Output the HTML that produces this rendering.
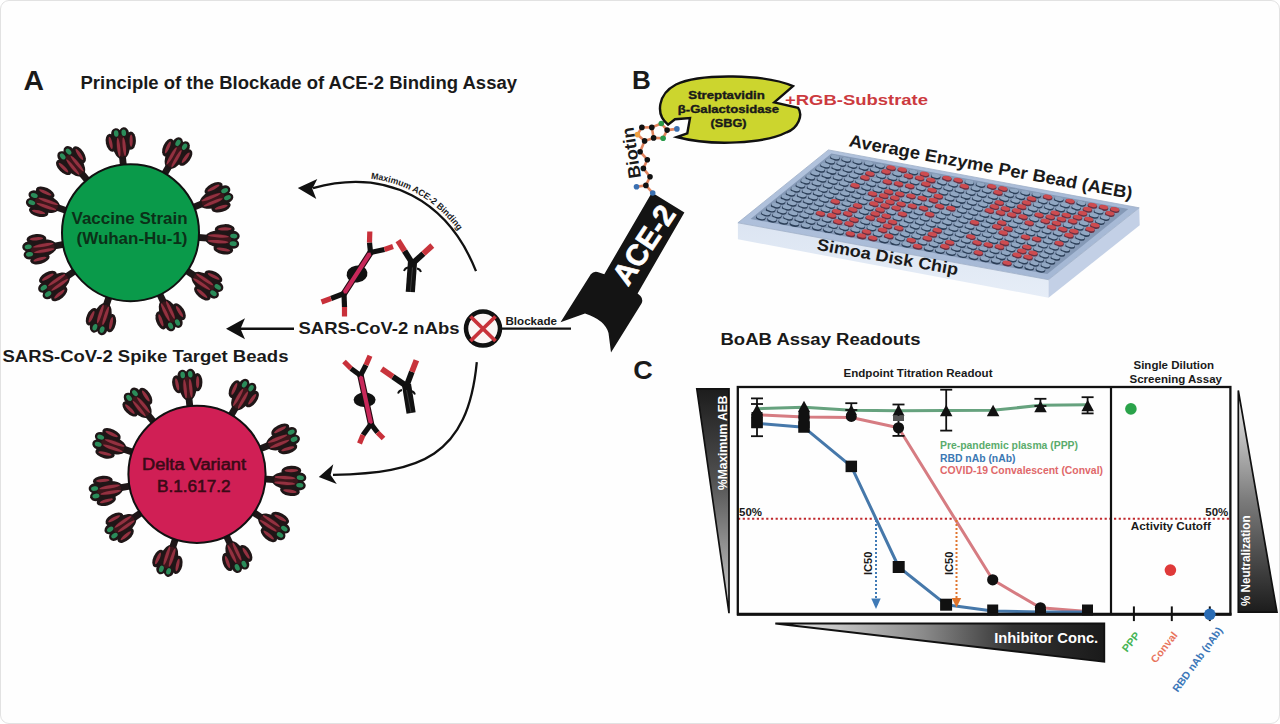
<!DOCTYPE html>
<html><head><meta charset="utf-8"><title>BoAB assay figure</title>
<style>
html,body{margin:0;padding:0;background:#fff;}
body{width:1280px;height:724px;overflow:hidden;}
.frame{position:absolute;left:0;top:0;width:1278px;height:722px;border:1px solid #e2e2e2;border-radius:9px;background:#fefefe;overflow:hidden;}
svg{position:absolute;left:0;top:0;}
text{font-family:"Liberation Sans", sans-serif;}
</style></head>
<body>
<div class="frame"></div>
<svg width="1280" height="724" viewBox="0 0 1280 724" font-family='"Liberation Sans", sans-serif'>
<defs>
<linearGradient id="gL" x1="0" y1="0" x2="0" y2="1">
  <stop offset="0" stop-color="#1c1c1c"/><stop offset="0.4" stop-color="#505050"/><stop offset="0.8" stop-color="#a8a8a8"/><stop offset="1" stop-color="#e0e0e0"/>
</linearGradient>
<linearGradient id="gR" x1="0" y1="0" x2="0" y2="1">
  <stop offset="0" stop-color="#f0f0f0"/><stop offset="0.5" stop-color="#7a7a7a"/><stop offset="1" stop-color="#1c1c1c"/>
</linearGradient>
<linearGradient id="gB" x1="0" y1="0" x2="1" y2="0">
  <stop offset="0" stop-color="#eeeeee"/><stop offset="0.45" stop-color="#8a8a8a"/><stop offset="0.72" stop-color="#333"/><stop offset="1" stop-color="#1a1a1a"/>
</linearGradient>
<linearGradient id="gTop" x1="0" y1="0" x2="1" y2="1">
  <stop offset="0" stop-color="#b3c4de"/><stop offset="1" stop-color="#a3b6d3"/>
</linearGradient>
<linearGradient id="gFront" x1="0" y1="0" x2="0" y2="1">
  <stop offset="0" stop-color="#dce5f2"/><stop offset="1" stop-color="#e6edf7"/>
</linearGradient>
<g id="spike">
  <rect x="-4" y="-3.4" width="14" height="6.8" fill="#1e1718"/>
  <g fill="#1f1617">
    <ellipse cx="23" cy="0" rx="15" ry="8.8"/>
    <ellipse cx="26" cy="-10" rx="9.5" ry="5.1" transform="rotate(-6 26 -10)"/>
    <ellipse cx="26" cy="10" rx="9.5" ry="5.1" transform="rotate(6 26 10)"/>
    <ellipse cx="34.5" cy="-4" rx="6.2" ry="5"/>
    <ellipse cx="34.5" cy="4" rx="6.2" ry="5"/>
  </g>
  <ellipse cx="21.5" cy="0" rx="11.5" ry="5.2" fill="#3c161b"/>
  <g fill="#933140">
    <ellipse cx="20.5" cy="-2.8" rx="10" ry="1.55"/>
    <ellipse cx="20.5" cy="2.8" rx="10" ry="1.55"/>
    <ellipse cx="26" cy="-10.3" rx="6.5" ry="1.6" transform="rotate(-6 26 -10.3)"/>
    <ellipse cx="26" cy="10.3" rx="6.5" ry="1.6" transform="rotate(6 26 10.3)"/>
  </g>
  <g fill="#2b8c5a">
    <ellipse cx="35" cy="-3.8" rx="3.4" ry="2.3"/>
    <ellipse cx="35" cy="3.8" rx="3.4" ry="2.3"/>
  </g>
</g>
</defs>
<text x="23.5" y="89.5" font-size="28" fill="#1a1a1a" font-weight="bold" textLength="20.5" lengthAdjust="spacingAndGlyphs" >A</text>
<text x="80.5" y="89" font-size="18" fill="#1a1a1a" font-weight="bold" textLength="436.5" lengthAdjust="spacingAndGlyphs" >Principle of the Blockade of ACE-2 Binding Assay</text>
<use href="#spike" transform="translate(196.8,237.3) rotate(4) scale(1.050,1)"/>
<use href="#spike" transform="translate(185.6,269.9) rotate(34) scale(1.033,1)"/>
<use href="#spike" transform="translate(159.1,292.7) rotate(64.5) scale(0.993,1)"/>
<use href="#spike" transform="translate(109.4,295.8) rotate(108.5) scale(0.982,1)"/>
<use href="#spike" transform="translate(75.7,270.4) rotate(145.5) scale(1.032,1)"/>
<use href="#spike" transform="translate(65.0,244.2) rotate(170) scale(1.048,1)"/>
<use href="#spike" transform="translate(67.6,211.0) rotate(199) scale(1.045,1)"/>
<use href="#spike" transform="translate(88.2,181.4) rotate(230.5) scale(1.014,1)"/>
<use href="#spike" transform="translate(123.5,166.6) rotate(264) scale(0.960,1)"/>
<use href="#spike" transform="translate(163.8,175.1) rotate(300) scale(1.000,1)"/>
<use href="#spike" transform="translate(192.2,207.8) rotate(338) scale(1.043,1)"/>
<circle cx="130.5" cy="232.7" r="68.5" fill="#0a9a4a" stroke="#111" stroke-width="2"/>
<text x="71.5" y="223.5" font-size="16" fill="#0b3118" font-weight="bold" textLength="116" lengthAdjust="spacingAndGlyphs" >Vaccine Strain</text>
<text x="76.5" y="244" font-size="16" fill="#0b3118" font-weight="bold" textLength="111" lengthAdjust="spacingAndGlyphs" >(Wuhan-Hu-1)</text>
<use href="#spike" transform="translate(263.4,478.9) rotate(4) scale(1.050,1)"/>
<use href="#spike" transform="translate(252.2,511.5) rotate(34) scale(1.033,1)"/>
<use href="#spike" transform="translate(225.7,534.4) rotate(64.5) scale(0.993,1)"/>
<use href="#spike" transform="translate(175.9,537.5) rotate(108.5) scale(0.982,1)"/>
<use href="#spike" transform="translate(142.1,512.0) rotate(145.5) scale(1.032,1)"/>
<use href="#spike" transform="translate(131.4,485.9) rotate(170) scale(1.048,1)"/>
<use href="#spike" transform="translate(134.0,452.6) rotate(199) scale(1.045,1)"/>
<use href="#spike" transform="translate(154.6,422.9) rotate(230.5) scale(1.014,1)"/>
<use href="#spike" transform="translate(190.0,408.1) rotate(264) scale(0.960,1)"/>
<use href="#spike" transform="translate(230.3,416.6) rotate(300) scale(1.000,1)"/>
<use href="#spike" transform="translate(258.8,449.4) rotate(338) scale(1.043,1)"/>
<circle cx="197" cy="474.3" r="68.6" fill="#d01f55" stroke="#111" stroke-width="2"/>
<text x="142" y="470.3" font-size="16" fill="#3a0a16" font-weight="normal" textLength="104" lengthAdjust="spacingAndGlyphs" stroke="#3a0a16" stroke-width="0.55">Delta Variant</text>
<text x="157" y="491.6" font-size="16" fill="#3a0a16" font-weight="normal" textLength="73.5" lengthAdjust="spacingAndGlyphs" stroke="#3a0a16" stroke-width="0.55">B.1.617.2</text>
<text x="2.5" y="362" font-size="17.2" fill="#1a1a1a" font-weight="bold" textLength="286" lengthAdjust="spacingAndGlyphs" >SARS-CoV-2 Spike Target Beads</text>
<line x1="240" y1="328.8" x2="294" y2="328.8" stroke="#111" stroke-width="2.4"/>
<path d="M226.0,328.8 L245.0,318.3 L240.5,328.8 L245.0,339.3 Z" fill="#111"/>
<path d="M476,271.2 C448.3,201.3 387.9,167.2 313,188.1" fill="none" stroke="#111" stroke-width="2.3"/>
<path d="M297.8,187.9 L317.3,178.9 L312.3,188.7 L316.3,198.9 Z" fill="#111"/>
<path id="upt" d="M311.94,184.24 L313.07,183.93 L314.22,183.62 L315.36,183.32 L316.50,183.03 L317.64,182.75 L318.78,182.48 L319.91,182.21 L321.04,181.95 L322.17,181.70 L323.30,181.46 L324.43,181.23 L325.55,181.00 L326.67,180.79 L327.79,180.58 L328.91,180.38 L330.02,180.19 L331.14,180.00 L332.25,179.83 L333.35,179.66 L334.46,179.50 L335.56,179.35 L336.67,179.21 L337.76,179.07 L338.86,178.94 L339.95,178.82 L341.05,178.71 L342.14,178.61 L343.22,178.52 L344.31,178.43 L345.39,178.35 L346.47,178.28 L347.55,178.22 L348.62,178.16 L349.69,178.12 L350.76,178.08 L351.83,178.05 L352.90,178.03 L353.96,178.01 L355.02,178.01 L356.07,178.01 L357.13,178.02 L358.18,178.03 L359.23,178.06 L360.27,178.09 L361.32,178.13 L362.36,178.18 L363.40,178.24 L364.43,178.30 L365.47,178.37 L366.50,178.45 L367.52,178.54 L368.55,178.63 L369.57,178.74 L370.59,178.85 L371.60,178.97 L372.62,179.09 L373.63,179.22 L374.63,179.37 L375.64,179.52 L376.64,179.67 L377.64,179.84 L378.63,180.01 L379.62,180.19 L380.61,180.38 L381.60,180.57 L382.58,180.77 L383.56,180.98 L384.54,181.20 L385.51,181.43 L386.48,181.66 L387.45,181.90 L388.42,182.15 L389.38,182.40 L390.33,182.66 L391.29,182.93 L392.24,183.21 L393.19,183.50 L394.13,183.79 L395.08,184.09 L396.01,184.39 L396.95,184.71 L397.88,185.03 L398.81,185.36 L399.73,185.70 L400.66,186.04 L401.57,186.39 L402.49,186.75 L403.40,187.11 L404.31,187.49 L405.21,187.87 L406.11,188.25 L407.01,188.65 L407.90,189.05 L408.79,189.46 L409.68,189.87 L410.56,190.30 L411.44,190.73 L412.32,191.16 L413.19,191.61 L414.06,192.06 L414.92,192.52 L415.78,192.98 L416.64,193.45 L417.49,193.93 L418.34,194.42 L419.19,194.91 L420.03,195.41 L420.87,195.92 L421.71,196.43 L422.54,196.95 L423.36,197.48 L424.19,198.01 L425.00,198.56 L425.82,199.10 L426.63,199.66 L427.44,200.22 L428.24,200.79 L429.04,201.36 L429.84,201.94 L430.63,202.53 L431.42,203.13 L432.20,203.73 L432.98,204.34 L433.75,204.95 L434.52,205.57 L435.29,206.20 L436.05,206.84 L436.81,207.48 L437.57,208.13 L438.32,208.78 L439.06,209.44 L439.81,210.11 L440.54,210.78 L441.28,211.46 L442.01,212.15 L442.73,212.84 L443.45,213.54 L444.17,214.25 L444.88,214.96 L445.59,215.68 L446.30,216.40 L446.99,217.13 L447.69,217.87 L448.38,218.61 L449.07,219.36 L449.75,220.12 L450.43,220.88 L451.10,221.65 L451.77,222.43 L452.43,223.21 L453.09,223.99 L453.75,224.79 L454.40,225.59 L455.05,226.39 L455.69,227.20 L456.33,228.02 L456.96,228.84 L457.59,229.67 L458.21,230.51 L458.83,231.35 L459.45,232.20 L460.06,233.05 L460.66,233.91 L461.26,234.78 L461.86,235.65 L462.45,236.52 L463.04,237.41 L463.62,238.29 L464.20,239.19 L464.77,240.09 L465.34,241.00 L465.90,241.91 L466.46,242.83 L467.02,243.75 L467.57,244.68 L468.11,245.61 L468.65,246.55 L469.18,247.50 L469.71,248.45 L470.24,249.41 L470.76,250.37 L471.28,251.34 L471.79,252.32 L472.29,253.30 L472.79,254.28 L473.29,255.27 L473.78,256.27 L474.27,257.27 L474.75,258.28 L475.23,259.29 L475.70,260.31 L476.17,261.34 L476.63,262.37 L477.08,263.40 L477.54,264.44 L477.98,265.49 L478.42,266.54 L478.86,267.60 L479.29,268.66 L479.71,269.72" fill="none"/>
<text font-size="9" font-weight="bold" fill="#1a1a1a"><textPath href="#upt" startOffset="59.3" textLength="105" lengthAdjust="spacingAndGlyphs">Maximum ACE-2 Binding</textPath></text>
<path d="M476.8,362.1 C467.7,457.3 420.3,473 333,474.8" fill="none" stroke="#111" stroke-width="2.3"/>
<path d="M318.8,477.0 L333.3,464.3 L330.6,474.9 L336.8,484.0 Z" fill="#111"/>
<text x="298.5" y="333.8" font-size="17.3" fill="#1a1a1a" font-weight="bold" textLength="161" lengthAdjust="spacingAndGlyphs" >SARS-CoV-2 nAbs</text>
<circle cx="483" cy="328.6" r="17" fill="#fbf5f5" stroke="#111" stroke-width="4.5"/>
<path d="M470.5,316.5 L495.5,341 M495.5,316.5 L470.5,341" stroke="#c8323a" stroke-width="3.8"/>
<line x1="502" y1="328.6" x2="571" y2="328.6" stroke="#111" stroke-width="2.3"/>
<text x="505.5" y="324.8" font-size="10.5" fill="#1a1a1a" font-weight="bold" textLength="51.5" lengthAdjust="spacingAndGlyphs" >Blockade</text>
<path d="M370.5,252.5 L344,293.5" stroke="#2a0d14" stroke-width="6.5" stroke-linecap="round"/>
<ellipse cx="357" cy="274" rx="10.5" ry="8.5" transform="rotate(-10 357 274)" fill="#111"/>
<path d="M370.5,252.5 L344,293.5" stroke="#c8285a" stroke-width="4.2" stroke-linecap="round"/>
<path d="M370.5,252.5 L369.5,242.5" stroke="#111" stroke-width="5.2"/>
<path d="M369.5,242.5 L369.8,231.5" stroke="#c8303a" stroke-width="5.2"/>
<path d="M370.5,252.5 L384.5,249.5" stroke="#111" stroke-width="5.2"/>
<path d="M384.5,249.5 L393,246.5" stroke="#c8303a" stroke-width="5.2"/>
<path d="M344,293.5 L331,298.5" stroke="#111" stroke-width="5.2"/>
<path d="M331,298.5 L321.5,302" stroke="#c8303a" stroke-width="5.2"/>
<path d="M344,293.5 L344.5,307" stroke="#111" stroke-width="5.2"/>
<path d="M344.5,307 L344.5,316.5" stroke="#c8303a" stroke-width="5.2"/>
<path d="M412.5,263.5 L404.5,250.9" stroke="#111" stroke-width="5.8"/>
<path d="M404.5,250.9 L398,240.6" stroke="#c8343c" stroke-width="5.8"/>
<path d="M412.5,263.5 L423.4,253.6" stroke="#111" stroke-width="5.8"/>
<path d="M423.4,253.6 L432.3,245.5" stroke="#c8343c" stroke-width="5.8"/>
<path d="M412.5,262.0 L410.3,292" stroke="#111" stroke-width="9.2"/>
<path d="M412.5,267.5 L410.3,292" stroke="#666" stroke-width="0.5"/>
<path d="M408.0,267.5 q-3,0.5 -4,3.5 M417.0,268.5 q3,0.5 4,3.5" stroke="#111" stroke-width="1.8" fill="none"/>
<path d="M360.5,375.5 L371,424" stroke="#2a0d14" stroke-width="6.5" stroke-linecap="round"/>
<ellipse cx="364.6" cy="399.8" rx="11" ry="7.3" transform="rotate(0 364.6 399.8)" fill="#111"/>
<path d="M360.5,375.5 L371,424" stroke="#c8285a" stroke-width="4.2" stroke-linecap="round"/>
<path d="M360.5,375.5 L351,368.5" stroke="#111" stroke-width="5.2"/>
<path d="M351,368.5 L344,361.5" stroke="#c8303a" stroke-width="5.2"/>
<path d="M360.5,375.5 L366,365" stroke="#111" stroke-width="5.2"/>
<path d="M366,365 L370,355.8" stroke="#c8303a" stroke-width="5.2"/>
<path d="M371,424 L363,435" stroke="#111" stroke-width="5.2"/>
<path d="M363,435 L359.5,443.5" stroke="#c8303a" stroke-width="5.2"/>
<path d="M371,424 L377.5,432.5" stroke="#111" stroke-width="5.2"/>
<path d="M377.5,432.5 L383.5,438.5" stroke="#c8303a" stroke-width="5.2"/>
<path d="M406.5,386 L392.8,376.6" stroke="#111" stroke-width="5.8"/>
<path d="M392.8,376.6 L381.6,368.9" stroke="#c8343c" stroke-width="5.8"/>
<path d="M406.5,386 L411.9,371.8" stroke="#111" stroke-width="5.8"/>
<path d="M411.9,371.8 L416.4,360.2" stroke="#c8343c" stroke-width="5.8"/>
<path d="M406.5,384.5 L411.1,413" stroke="#111" stroke-width="9.2"/>
<path d="M406.5,390 L411.1,413" stroke="#666" stroke-width="0.5"/>
<path d="M402.0,390 q-3,0.5 -4,3.5 M411.0,391 q3,0.5 4,3.5" stroke="#111" stroke-width="1.8" fill="none"/>
<text x="632" y="89.2" font-size="26.5" fill="#1a1a1a" font-weight="bold" textLength="18.8" lengthAdjust="spacingAndGlyphs" >B</text>
<path d="M651.9,192.4 L684.4,212.4 L637.6,293.4 L640.5,296 Q643.5,299.5 641.5,303.5 L611,352.5 L608.5,333 Q605,320 585,313.5 L560.5,322.3 L590.8,274.3 Q593.5,271 597.5,272 L604.3,274.2 Z" fill="#141414"/>
<text transform="translate(643.2,244.6) rotate(-56.5)" x="0" y="11" font-size="30" font-weight="bold" fill="#fff" stroke="#fff" stroke-width="0.7" text-anchor="middle" textLength="88" lengthAdjust="spacingAndGlyphs">ACE-2</text>
<line x1="641.9" y1="127.4" x2="651.8" y2="127.4" stroke="#e2845e" stroke-width="2.6"/>
<line x1="651.8" y1="127.4" x2="661.3" y2="123.5" stroke="#e2845e" stroke-width="2.6"/>
<line x1="661.3" y1="123.5" x2="667.1" y2="130.1" stroke="#e2845e" stroke-width="2.6"/>
<line x1="667.1" y1="130.1" x2="676.9" y2="128.9" stroke="#e2845e" stroke-width="2.6"/>
<line x1="667.1" y1="130.1" x2="663.1" y2="138.2" stroke="#e2845e" stroke-width="2.6"/>
<line x1="663.1" y1="138.2" x2="653.6" y2="137.9" stroke="#e2845e" stroke-width="2.6"/>
<line x1="653.6" y1="137.9" x2="651.8" y2="127.4" stroke="#e2845e" stroke-width="2.6"/>
<line x1="641.9" y1="127.4" x2="637.4" y2="134.6" stroke="#e2845e" stroke-width="2.6"/>
<line x1="637.4" y1="134.6" x2="644.6" y2="140.9" stroke="#e2845e" stroke-width="2.6"/>
<line x1="644.6" y1="140.9" x2="653.6" y2="137.9" stroke="#e2845e" stroke-width="2.6"/>
<line x1="644.6" y1="140.9" x2="640.1" y2="151.7" stroke="#e2845e" stroke-width="2.6"/>
<line x1="640.1" y1="151.7" x2="647.3" y2="159.7" stroke="#e2845e" stroke-width="2.6"/>
<line x1="647.3" y1="159.7" x2="643.4" y2="168.4" stroke="#e2845e" stroke-width="2.6"/>
<line x1="643.4" y1="168.4" x2="650.0" y2="176.8" stroke="#e2845e" stroke-width="2.6"/>
<line x1="650.0" y1="176.8" x2="645.9" y2="185.4" stroke="#e2845e" stroke-width="2.6"/>
<line x1="645.9" y1="185.4" x2="636.5" y2="186.7" stroke="#e2845e" stroke-width="2.6"/>
<line x1="645.9" y1="185.4" x2="652.7" y2="193.0" stroke="#e2845e" stroke-width="2.6"/>
<circle cx="641.9" cy="127.4" r="2.8" fill="#111"/>
<circle cx="651.8" cy="127.4" r="2.8" fill="#111"/>
<circle cx="661.3" cy="123.5" r="2.8" fill="#2a9a4a"/>
<circle cx="667.1" cy="130.1" r="2.8" fill="#111"/>
<circle cx="676.9" cy="128.9" r="2.8" fill="#3a6fb0"/>
<circle cx="663.1" cy="138.2" r="2.8" fill="#2a9a4a"/>
<circle cx="653.6" cy="137.9" r="2.8" fill="#111"/>
<circle cx="637.4" cy="134.6" r="2.8" fill="#f0a040"/>
<circle cx="644.6" cy="140.9" r="2.8" fill="#111"/>
<circle cx="640.1" cy="151.7" r="2.8" fill="#111"/>
<circle cx="647.3" cy="159.7" r="2.8" fill="#111"/>
<circle cx="643.4" cy="168.4" r="2.8" fill="#111"/>
<circle cx="650.0" cy="176.8" r="2.8" fill="#111"/>
<circle cx="645.9" cy="185.4" r="2.8" fill="#111"/>
<circle cx="636.5" cy="186.7" r="2.8" fill="#3a6fb0"/>
<circle cx="652.7" cy="193.0" r="2.8" fill="#3a6fb0"/>
<text x="0" y="0" font-size="17.4" fill="#1a1a1a" font-weight="bold" textLength="51.5" lengthAdjust="spacingAndGlyphs" transform="translate(641,177.4) rotate(-98.5)" >Biotin</text>
<path d="M668,124.6 C655,114 658,94 676,84.5 C700,73 765,74 793,86.2 L774.3,102.3 L798,107.8 C803.5,115 798,128 786.7,132.3 C765,143.5 712,146.5 676.7,137 L687.3,133.3 L690,118 L675,119.2 Z" fill="#ccd52e" stroke="#111" stroke-width="2.4"/>
<text x="688.3" y="99.1" font-size="10.2" fill="#1a1a1a" font-weight="bold" textLength="76.5" lengthAdjust="spacingAndGlyphs" stroke="#1a1a1a" stroke-width="0.35">Streptavidin</text>
<text x="677.8" y="112.8" font-size="10.2" fill="#1a1a1a" font-weight="bold" textLength="101.2" lengthAdjust="spacingAndGlyphs" stroke="#1a1a1a" stroke-width="0.35">β-Galactosidase</text>
<text x="710.6" y="127.1" font-size="10.2" fill="#1a1a1a" font-weight="bold" textLength="36" lengthAdjust="spacingAndGlyphs" stroke="#1a1a1a" stroke-width="0.35">(SBG)</text>
<text x="785" y="104.5" font-size="15.5" fill="#cc3a3f" font-weight="bold" textLength="143" lengthAdjust="spacingAndGlyphs" >+RGB-Substrate</text>
<polygon points="737.9,222.8 1048.5,279.7 1048.5,297.7 737.9,239.3" fill="url(#gFront)"/>
<polygon points="1139.2,207.8 1139.7,225.3 1048.5,297.7 1048.5,279.7" fill="#c3d0e6"/>
<polygon points="828.4,149.9 1139.2,207.8 1048.5,279.7 737.9,222.8" fill="url(#gTop)" stroke="#9fb0c8" stroke-width="0.8"/>
<polygon points="831.4,153.6 1128.3,208.9 1047.3,274.1 750.5,218.9" fill="#8599b6"/>
<ellipse cx="835.1" cy="158.0" rx="4.9" ry="2.6" transform="rotate(10.5 835.1 157.4)" fill="#2c3f58"/>
<ellipse cx="835.1" cy="157.1" rx="4.4" ry="2.05" transform="rotate(10.5 835.1 157.4)" fill="#91a7c2"/>
<ellipse cx="846.3" cy="160.1" rx="4.9" ry="2.6" transform="rotate(10.5 846.3 159.5)" fill="#2c3f58"/>
<ellipse cx="846.3" cy="159.2" rx="4.4" ry="2.05" transform="rotate(10.5 846.3 159.5)" fill="#91a7c2"/>
<ellipse cx="857.5" cy="162.2" rx="4.9" ry="2.6" transform="rotate(10.5 857.5 161.6)" fill="#2c3f58"/>
<ellipse cx="857.5" cy="161.3" rx="4.4" ry="2.05" transform="rotate(10.5 857.5 161.6)" fill="#91a7c2"/>
<ellipse cx="868.7" cy="164.3" rx="4.9" ry="2.6" transform="rotate(10.5 868.7 163.7)" fill="#2c3f58"/>
<ellipse cx="868.7" cy="163.3" rx="4.4" ry="2.05" transform="rotate(10.5 868.7 163.7)" fill="#91a7c2"/>
<ellipse cx="879.9" cy="166.4" rx="4.9" ry="2.6" transform="rotate(10.5 879.9 165.8)" fill="#2c3f58"/>
<ellipse cx="879.9" cy="165.4" rx="4.4" ry="2.05" transform="rotate(10.5 879.9 165.8)" fill="#91a7c2"/>
<ellipse cx="891.1" cy="168.5" rx="4.9" ry="2.6" transform="rotate(10.5 891.1 167.9)" fill="#683042"/>
<ellipse cx="891.1" cy="167.5" rx="4.4" ry="2.05" transform="rotate(10.5 891.1 167.9)" fill="#cd4c50"/>
<ellipse cx="902.3" cy="170.5" rx="4.9" ry="2.6" transform="rotate(10.5 902.3 169.9)" fill="#683042"/>
<ellipse cx="902.3" cy="169.6" rx="4.4" ry="2.05" transform="rotate(10.5 902.3 169.9)" fill="#cd4c50"/>
<ellipse cx="913.4" cy="172.6" rx="4.9" ry="2.6" transform="rotate(10.5 913.4 172.0)" fill="#2c3f58"/>
<ellipse cx="913.4" cy="171.7" rx="4.4" ry="2.05" transform="rotate(10.5 913.4 172.0)" fill="#91a7c2"/>
<ellipse cx="924.6" cy="174.7" rx="4.9" ry="2.6" transform="rotate(10.5 924.6 174.1)" fill="#683042"/>
<ellipse cx="924.6" cy="173.8" rx="4.4" ry="2.05" transform="rotate(10.5 924.6 174.1)" fill="#cd4c50"/>
<ellipse cx="935.8" cy="176.8" rx="4.9" ry="2.6" transform="rotate(10.5 935.8 176.2)" fill="#2c3f58"/>
<ellipse cx="935.8" cy="175.8" rx="4.4" ry="2.05" transform="rotate(10.5 935.8 176.2)" fill="#91a7c2"/>
<ellipse cx="947.0" cy="178.9" rx="4.9" ry="2.6" transform="rotate(10.5 947.0 178.3)" fill="#683042"/>
<ellipse cx="947.0" cy="177.9" rx="4.4" ry="2.05" transform="rotate(10.5 947.0 178.3)" fill="#cd4c50"/>
<ellipse cx="958.2" cy="181.0" rx="4.9" ry="2.6" transform="rotate(10.5 958.2 180.4)" fill="#683042"/>
<ellipse cx="958.2" cy="180.0" rx="4.4" ry="2.05" transform="rotate(10.5 958.2 180.4)" fill="#cd4c50"/>
<ellipse cx="969.4" cy="183.0" rx="4.9" ry="2.6" transform="rotate(10.5 969.4 182.4)" fill="#2c3f58"/>
<ellipse cx="969.4" cy="182.1" rx="4.4" ry="2.05" transform="rotate(10.5 969.4 182.4)" fill="#91a7c2"/>
<ellipse cx="980.6" cy="185.1" rx="4.9" ry="2.6" transform="rotate(10.5 980.6 184.5)" fill="#2c3f58"/>
<ellipse cx="980.6" cy="184.2" rx="4.4" ry="2.05" transform="rotate(10.5 980.6 184.5)" fill="#91a7c2"/>
<ellipse cx="991.8" cy="187.2" rx="4.9" ry="2.6" transform="rotate(10.5 991.8 186.6)" fill="#683042"/>
<ellipse cx="991.8" cy="186.3" rx="4.4" ry="2.05" transform="rotate(10.5 991.8 186.6)" fill="#cd4c50"/>
<ellipse cx="1003.0" cy="189.3" rx="4.9" ry="2.6" transform="rotate(10.5 1003.0 188.7)" fill="#683042"/>
<ellipse cx="1003.0" cy="188.4" rx="4.4" ry="2.05" transform="rotate(10.5 1003.0 188.7)" fill="#cd4c50"/>
<ellipse cx="1014.1" cy="191.4" rx="4.9" ry="2.6" transform="rotate(10.5 1014.1 190.8)" fill="#2c3f58"/>
<ellipse cx="1014.1" cy="190.4" rx="4.4" ry="2.05" transform="rotate(10.5 1014.1 190.8)" fill="#91a7c2"/>
<ellipse cx="1025.3" cy="193.5" rx="4.9" ry="2.6" transform="rotate(10.5 1025.3 192.9)" fill="#2c3f58"/>
<ellipse cx="1025.3" cy="192.5" rx="4.4" ry="2.05" transform="rotate(10.5 1025.3 192.9)" fill="#91a7c2"/>
<ellipse cx="1036.5" cy="195.6" rx="4.9" ry="2.6" transform="rotate(10.5 1036.5 195.0)" fill="#2c3f58"/>
<ellipse cx="1036.5" cy="194.6" rx="4.4" ry="2.05" transform="rotate(10.5 1036.5 195.0)" fill="#91a7c2"/>
<ellipse cx="1047.7" cy="197.6" rx="4.9" ry="2.6" transform="rotate(10.5 1047.7 197.0)" fill="#683042"/>
<ellipse cx="1047.7" cy="196.7" rx="4.4" ry="2.05" transform="rotate(10.5 1047.7 197.0)" fill="#cd4c50"/>
<ellipse cx="1058.9" cy="199.7" rx="4.9" ry="2.6" transform="rotate(10.5 1058.9 199.1)" fill="#2c3f58"/>
<ellipse cx="1058.9" cy="198.8" rx="4.4" ry="2.05" transform="rotate(10.5 1058.9 199.1)" fill="#91a7c2"/>
<ellipse cx="1070.1" cy="201.8" rx="4.9" ry="2.6" transform="rotate(10.5 1070.1 201.2)" fill="#683042"/>
<ellipse cx="1070.1" cy="200.9" rx="4.4" ry="2.05" transform="rotate(10.5 1070.1 201.2)" fill="#cd4c50"/>
<ellipse cx="1081.3" cy="203.9" rx="4.9" ry="2.6" transform="rotate(10.5 1081.3 203.3)" fill="#2c3f58"/>
<ellipse cx="1081.3" cy="202.9" rx="4.4" ry="2.05" transform="rotate(10.5 1081.3 203.3)" fill="#91a7c2"/>
<ellipse cx="1092.5" cy="206.0" rx="4.9" ry="2.6" transform="rotate(10.5 1092.5 205.4)" fill="#683042"/>
<ellipse cx="1092.5" cy="205.0" rx="4.4" ry="2.05" transform="rotate(10.5 1092.5 205.4)" fill="#cd4c50"/>
<ellipse cx="1103.6" cy="208.1" rx="4.9" ry="2.6" transform="rotate(10.5 1103.6 207.5)" fill="#683042"/>
<ellipse cx="1103.6" cy="207.1" rx="4.4" ry="2.05" transform="rotate(10.5 1103.6 207.5)" fill="#cd4c50"/>
<ellipse cx="1114.8" cy="210.1" rx="4.9" ry="2.6" transform="rotate(10.5 1114.8 209.5)" fill="#683042"/>
<ellipse cx="1114.8" cy="209.2" rx="4.4" ry="2.05" transform="rotate(10.5 1114.8 209.5)" fill="#cd4c50"/>
<ellipse cx="830.2" cy="162.0" rx="4.9" ry="2.6" transform="rotate(10.5 830.2 161.4)" fill="#2c3f58"/>
<ellipse cx="830.2" cy="161.1" rx="4.4" ry="2.05" transform="rotate(10.5 830.2 161.4)" fill="#91a7c2"/>
<ellipse cx="841.4" cy="164.1" rx="4.9" ry="2.6" transform="rotate(10.5 841.4 163.5)" fill="#2c3f58"/>
<ellipse cx="841.4" cy="163.2" rx="4.4" ry="2.05" transform="rotate(10.5 841.4 163.5)" fill="#91a7c2"/>
<ellipse cx="852.5" cy="166.2" rx="4.9" ry="2.6" transform="rotate(10.5 852.5 165.6)" fill="#2c3f58"/>
<ellipse cx="852.5" cy="165.2" rx="4.4" ry="2.05" transform="rotate(10.5 852.5 165.6)" fill="#91a7c2"/>
<ellipse cx="863.7" cy="168.3" rx="4.9" ry="2.6" transform="rotate(10.5 863.7 167.7)" fill="#2c3f58"/>
<ellipse cx="863.7" cy="167.3" rx="4.4" ry="2.05" transform="rotate(10.5 863.7 167.7)" fill="#91a7c2"/>
<ellipse cx="874.9" cy="170.4" rx="4.9" ry="2.6" transform="rotate(10.5 874.9 169.8)" fill="#2c3f58"/>
<ellipse cx="874.9" cy="169.4" rx="4.4" ry="2.05" transform="rotate(10.5 874.9 169.8)" fill="#91a7c2"/>
<ellipse cx="886.1" cy="172.4" rx="4.9" ry="2.6" transform="rotate(10.5 886.1 171.8)" fill="#683042"/>
<ellipse cx="886.1" cy="171.5" rx="4.4" ry="2.05" transform="rotate(10.5 886.1 171.8)" fill="#cd4c50"/>
<ellipse cx="897.3" cy="174.5" rx="4.9" ry="2.6" transform="rotate(10.5 897.3 173.9)" fill="#2c3f58"/>
<ellipse cx="897.3" cy="173.6" rx="4.4" ry="2.05" transform="rotate(10.5 897.3 173.9)" fill="#91a7c2"/>
<ellipse cx="908.5" cy="176.6" rx="4.9" ry="2.6" transform="rotate(10.5 908.5 176.0)" fill="#683042"/>
<ellipse cx="908.5" cy="175.7" rx="4.4" ry="2.05" transform="rotate(10.5 908.5 176.0)" fill="#cd4c50"/>
<ellipse cx="919.7" cy="178.7" rx="4.9" ry="2.6" transform="rotate(10.5 919.7 178.1)" fill="#683042"/>
<ellipse cx="919.7" cy="177.7" rx="4.4" ry="2.05" transform="rotate(10.5 919.7 178.1)" fill="#cd4c50"/>
<ellipse cx="930.9" cy="180.8" rx="4.9" ry="2.6" transform="rotate(10.5 930.9 180.2)" fill="#683042"/>
<ellipse cx="930.9" cy="179.8" rx="4.4" ry="2.05" transform="rotate(10.5 930.9 180.2)" fill="#cd4c50"/>
<ellipse cx="942.1" cy="182.9" rx="4.9" ry="2.6" transform="rotate(10.5 942.1 182.3)" fill="#2c3f58"/>
<ellipse cx="942.1" cy="181.9" rx="4.4" ry="2.05" transform="rotate(10.5 942.1 182.3)" fill="#91a7c2"/>
<ellipse cx="953.2" cy="184.9" rx="4.9" ry="2.6" transform="rotate(10.5 953.2 184.3)" fill="#2c3f58"/>
<ellipse cx="953.2" cy="184.0" rx="4.4" ry="2.05" transform="rotate(10.5 953.2 184.3)" fill="#91a7c2"/>
<ellipse cx="964.4" cy="187.0" rx="4.9" ry="2.6" transform="rotate(10.5 964.4 186.4)" fill="#683042"/>
<ellipse cx="964.4" cy="186.1" rx="4.4" ry="2.05" transform="rotate(10.5 964.4 186.4)" fill="#cd4c50"/>
<ellipse cx="975.6" cy="189.1" rx="4.9" ry="2.6" transform="rotate(10.5 975.6 188.5)" fill="#2c3f58"/>
<ellipse cx="975.6" cy="188.2" rx="4.4" ry="2.05" transform="rotate(10.5 975.6 188.5)" fill="#91a7c2"/>
<ellipse cx="986.8" cy="191.2" rx="4.9" ry="2.6" transform="rotate(10.5 986.8 190.6)" fill="#2c3f58"/>
<ellipse cx="986.8" cy="190.3" rx="4.4" ry="2.05" transform="rotate(10.5 986.8 190.6)" fill="#91a7c2"/>
<ellipse cx="998.0" cy="193.3" rx="4.9" ry="2.6" transform="rotate(10.5 998.0 192.7)" fill="#683042"/>
<ellipse cx="998.0" cy="192.3" rx="4.4" ry="2.05" transform="rotate(10.5 998.0 192.7)" fill="#cd4c50"/>
<ellipse cx="1009.2" cy="195.4" rx="4.9" ry="2.6" transform="rotate(10.5 1009.2 194.8)" fill="#2c3f58"/>
<ellipse cx="1009.2" cy="194.4" rx="4.4" ry="2.05" transform="rotate(10.5 1009.2 194.8)" fill="#91a7c2"/>
<ellipse cx="1020.4" cy="197.5" rx="4.9" ry="2.6" transform="rotate(10.5 1020.4 196.9)" fill="#2c3f58"/>
<ellipse cx="1020.4" cy="196.5" rx="4.4" ry="2.05" transform="rotate(10.5 1020.4 196.9)" fill="#91a7c2"/>
<ellipse cx="1031.6" cy="199.5" rx="4.9" ry="2.6" transform="rotate(10.5 1031.6 198.9)" fill="#683042"/>
<ellipse cx="1031.6" cy="198.6" rx="4.4" ry="2.05" transform="rotate(10.5 1031.6 198.9)" fill="#cd4c50"/>
<ellipse cx="1042.8" cy="201.6" rx="4.9" ry="2.6" transform="rotate(10.5 1042.8 201.0)" fill="#2c3f58"/>
<ellipse cx="1042.8" cy="200.7" rx="4.4" ry="2.05" transform="rotate(10.5 1042.8 201.0)" fill="#91a7c2"/>
<ellipse cx="1053.9" cy="203.7" rx="4.9" ry="2.6" transform="rotate(10.5 1053.9 203.1)" fill="#2c3f58"/>
<ellipse cx="1053.9" cy="202.8" rx="4.4" ry="2.05" transform="rotate(10.5 1053.9 203.1)" fill="#91a7c2"/>
<ellipse cx="1065.1" cy="205.8" rx="4.9" ry="2.6" transform="rotate(10.5 1065.1 205.2)" fill="#2c3f58"/>
<ellipse cx="1065.1" cy="204.8" rx="4.4" ry="2.05" transform="rotate(10.5 1065.1 205.2)" fill="#91a7c2"/>
<ellipse cx="1076.3" cy="207.9" rx="4.9" ry="2.6" transform="rotate(10.5 1076.3 207.3)" fill="#2c3f58"/>
<ellipse cx="1076.3" cy="206.9" rx="4.4" ry="2.05" transform="rotate(10.5 1076.3 207.3)" fill="#91a7c2"/>
<ellipse cx="1087.5" cy="210.0" rx="4.9" ry="2.6" transform="rotate(10.5 1087.5 209.4)" fill="#683042"/>
<ellipse cx="1087.5" cy="209.0" rx="4.4" ry="2.05" transform="rotate(10.5 1087.5 209.4)" fill="#cd4c50"/>
<ellipse cx="1098.7" cy="212.0" rx="4.9" ry="2.6" transform="rotate(10.5 1098.7 211.4)" fill="#2c3f58"/>
<ellipse cx="1098.7" cy="211.1" rx="4.4" ry="2.05" transform="rotate(10.5 1098.7 211.4)" fill="#91a7c2"/>
<ellipse cx="1109.9" cy="214.1" rx="4.9" ry="2.6" transform="rotate(10.5 1109.9 213.5)" fill="#683042"/>
<ellipse cx="1109.9" cy="213.2" rx="4.4" ry="2.05" transform="rotate(10.5 1109.9 213.5)" fill="#cd4c50"/>
<ellipse cx="825.2" cy="166.0" rx="4.9" ry="2.6" transform="rotate(10.5 825.2 165.4)" fill="#2c3f58"/>
<ellipse cx="825.2" cy="165.1" rx="4.4" ry="2.05" transform="rotate(10.5 825.2 165.4)" fill="#91a7c2"/>
<ellipse cx="836.4" cy="168.1" rx="4.9" ry="2.6" transform="rotate(10.5 836.4 167.5)" fill="#2c3f58"/>
<ellipse cx="836.4" cy="167.1" rx="4.4" ry="2.05" transform="rotate(10.5 836.4 167.5)" fill="#91a7c2"/>
<ellipse cx="847.6" cy="170.2" rx="4.9" ry="2.6" transform="rotate(10.5 847.6 169.6)" fill="#2c3f58"/>
<ellipse cx="847.6" cy="169.2" rx="4.4" ry="2.05" transform="rotate(10.5 847.6 169.6)" fill="#91a7c2"/>
<ellipse cx="858.8" cy="172.3" rx="4.9" ry="2.6" transform="rotate(10.5 858.8 171.7)" fill="#2c3f58"/>
<ellipse cx="858.8" cy="171.3" rx="4.4" ry="2.05" transform="rotate(10.5 858.8 171.7)" fill="#91a7c2"/>
<ellipse cx="870.0" cy="174.3" rx="4.9" ry="2.6" transform="rotate(10.5 870.0 173.7)" fill="#683042"/>
<ellipse cx="870.0" cy="173.4" rx="4.4" ry="2.05" transform="rotate(10.5 870.0 173.7)" fill="#cd4c50"/>
<ellipse cx="881.2" cy="176.4" rx="4.9" ry="2.6" transform="rotate(10.5 881.2 175.8)" fill="#2c3f58"/>
<ellipse cx="881.2" cy="175.5" rx="4.4" ry="2.05" transform="rotate(10.5 881.2 175.8)" fill="#91a7c2"/>
<ellipse cx="892.4" cy="178.5" rx="4.9" ry="2.6" transform="rotate(10.5 892.4 177.9)" fill="#2c3f58"/>
<ellipse cx="892.4" cy="177.6" rx="4.4" ry="2.05" transform="rotate(10.5 892.4 177.9)" fill="#91a7c2"/>
<ellipse cx="903.5" cy="180.6" rx="4.9" ry="2.6" transform="rotate(10.5 903.5 180.0)" fill="#2c3f58"/>
<ellipse cx="903.5" cy="179.6" rx="4.4" ry="2.05" transform="rotate(10.5 903.5 180.0)" fill="#91a7c2"/>
<ellipse cx="914.7" cy="182.7" rx="4.9" ry="2.6" transform="rotate(10.5 914.7 182.1)" fill="#2c3f58"/>
<ellipse cx="914.7" cy="181.7" rx="4.4" ry="2.05" transform="rotate(10.5 914.7 182.1)" fill="#91a7c2"/>
<ellipse cx="925.9" cy="184.8" rx="4.9" ry="2.6" transform="rotate(10.5 925.9 184.2)" fill="#683042"/>
<ellipse cx="925.9" cy="183.8" rx="4.4" ry="2.05" transform="rotate(10.5 925.9 184.2)" fill="#cd4c50"/>
<ellipse cx="937.1" cy="186.8" rx="4.9" ry="2.6" transform="rotate(10.5 937.1 186.2)" fill="#2c3f58"/>
<ellipse cx="937.1" cy="185.9" rx="4.4" ry="2.05" transform="rotate(10.5 937.1 186.2)" fill="#91a7c2"/>
<ellipse cx="948.3" cy="188.9" rx="4.9" ry="2.6" transform="rotate(10.5 948.3 188.3)" fill="#2c3f58"/>
<ellipse cx="948.3" cy="188.0" rx="4.4" ry="2.05" transform="rotate(10.5 948.3 188.3)" fill="#91a7c2"/>
<ellipse cx="959.5" cy="191.0" rx="4.9" ry="2.6" transform="rotate(10.5 959.5 190.4)" fill="#2c3f58"/>
<ellipse cx="959.5" cy="190.1" rx="4.4" ry="2.05" transform="rotate(10.5 959.5 190.4)" fill="#91a7c2"/>
<ellipse cx="970.7" cy="193.1" rx="4.9" ry="2.6" transform="rotate(10.5 970.7 192.5)" fill="#2c3f58"/>
<ellipse cx="970.7" cy="192.2" rx="4.4" ry="2.05" transform="rotate(10.5 970.7 192.5)" fill="#91a7c2"/>
<ellipse cx="981.9" cy="195.2" rx="4.9" ry="2.6" transform="rotate(10.5 981.9 194.6)" fill="#2c3f58"/>
<ellipse cx="981.9" cy="194.2" rx="4.4" ry="2.05" transform="rotate(10.5 981.9 194.6)" fill="#91a7c2"/>
<ellipse cx="993.1" cy="197.3" rx="4.9" ry="2.6" transform="rotate(10.5 993.1 196.7)" fill="#2c3f58"/>
<ellipse cx="993.1" cy="196.3" rx="4.4" ry="2.05" transform="rotate(10.5 993.1 196.7)" fill="#91a7c2"/>
<ellipse cx="1004.2" cy="199.4" rx="4.9" ry="2.6" transform="rotate(10.5 1004.2 198.8)" fill="#2c3f58"/>
<ellipse cx="1004.2" cy="198.4" rx="4.4" ry="2.05" transform="rotate(10.5 1004.2 198.8)" fill="#91a7c2"/>
<ellipse cx="1015.4" cy="201.4" rx="4.9" ry="2.6" transform="rotate(10.5 1015.4 200.8)" fill="#2c3f58"/>
<ellipse cx="1015.4" cy="200.5" rx="4.4" ry="2.05" transform="rotate(10.5 1015.4 200.8)" fill="#91a7c2"/>
<ellipse cx="1026.6" cy="203.5" rx="4.9" ry="2.6" transform="rotate(10.5 1026.6 202.9)" fill="#683042"/>
<ellipse cx="1026.6" cy="202.6" rx="4.4" ry="2.05" transform="rotate(10.5 1026.6 202.9)" fill="#cd4c50"/>
<ellipse cx="1037.8" cy="205.6" rx="4.9" ry="2.6" transform="rotate(10.5 1037.8 205.0)" fill="#2c3f58"/>
<ellipse cx="1037.8" cy="204.7" rx="4.4" ry="2.05" transform="rotate(10.5 1037.8 205.0)" fill="#91a7c2"/>
<ellipse cx="1049.0" cy="207.7" rx="4.9" ry="2.6" transform="rotate(10.5 1049.0 207.1)" fill="#2c3f58"/>
<ellipse cx="1049.0" cy="206.7" rx="4.4" ry="2.05" transform="rotate(10.5 1049.0 207.1)" fill="#91a7c2"/>
<ellipse cx="1060.2" cy="209.8" rx="4.9" ry="2.6" transform="rotate(10.5 1060.2 209.2)" fill="#2c3f58"/>
<ellipse cx="1060.2" cy="208.8" rx="4.4" ry="2.05" transform="rotate(10.5 1060.2 209.2)" fill="#91a7c2"/>
<ellipse cx="1071.4" cy="211.9" rx="4.9" ry="2.6" transform="rotate(10.5 1071.4 211.3)" fill="#2c3f58"/>
<ellipse cx="1071.4" cy="210.9" rx="4.4" ry="2.05" transform="rotate(10.5 1071.4 211.3)" fill="#91a7c2"/>
<ellipse cx="1082.6" cy="213.9" rx="4.9" ry="2.6" transform="rotate(10.5 1082.6 213.3)" fill="#683042"/>
<ellipse cx="1082.6" cy="213.0" rx="4.4" ry="2.05" transform="rotate(10.5 1082.6 213.3)" fill="#cd4c50"/>
<ellipse cx="1093.8" cy="216.0" rx="4.9" ry="2.6" transform="rotate(10.5 1093.8 215.4)" fill="#2c3f58"/>
<ellipse cx="1093.8" cy="215.1" rx="4.4" ry="2.05" transform="rotate(10.5 1093.8 215.4)" fill="#91a7c2"/>
<ellipse cx="1104.9" cy="218.1" rx="4.9" ry="2.6" transform="rotate(10.5 1104.9 217.5)" fill="#2c3f58"/>
<ellipse cx="1104.9" cy="217.2" rx="4.4" ry="2.05" transform="rotate(10.5 1104.9 217.5)" fill="#91a7c2"/>
<ellipse cx="820.3" cy="170.0" rx="4.9" ry="2.6" transform="rotate(10.5 820.3 169.4)" fill="#2c3f58"/>
<ellipse cx="820.3" cy="169.0" rx="4.4" ry="2.05" transform="rotate(10.5 820.3 169.4)" fill="#91a7c2"/>
<ellipse cx="831.5" cy="172.1" rx="4.9" ry="2.6" transform="rotate(10.5 831.5 171.5)" fill="#2c3f58"/>
<ellipse cx="831.5" cy="171.1" rx="4.4" ry="2.05" transform="rotate(10.5 831.5 171.5)" fill="#91a7c2"/>
<ellipse cx="842.7" cy="174.2" rx="4.9" ry="2.6" transform="rotate(10.5 842.7 173.6)" fill="#2c3f58"/>
<ellipse cx="842.7" cy="173.2" rx="4.4" ry="2.05" transform="rotate(10.5 842.7 173.6)" fill="#91a7c2"/>
<ellipse cx="853.8" cy="176.2" rx="4.9" ry="2.6" transform="rotate(10.5 853.8 175.6)" fill="#2c3f58"/>
<ellipse cx="853.8" cy="175.3" rx="4.4" ry="2.05" transform="rotate(10.5 853.8 175.6)" fill="#91a7c2"/>
<ellipse cx="865.0" cy="178.3" rx="4.9" ry="2.6" transform="rotate(10.5 865.0 177.7)" fill="#683042"/>
<ellipse cx="865.0" cy="177.4" rx="4.4" ry="2.05" transform="rotate(10.5 865.0 177.7)" fill="#cd4c50"/>
<ellipse cx="876.2" cy="180.4" rx="4.9" ry="2.6" transform="rotate(10.5 876.2 179.8)" fill="#2c3f58"/>
<ellipse cx="876.2" cy="179.5" rx="4.4" ry="2.05" transform="rotate(10.5 876.2 179.8)" fill="#91a7c2"/>
<ellipse cx="887.4" cy="182.5" rx="4.9" ry="2.6" transform="rotate(10.5 887.4 181.9)" fill="#683042"/>
<ellipse cx="887.4" cy="181.5" rx="4.4" ry="2.05" transform="rotate(10.5 887.4 181.9)" fill="#cd4c50"/>
<ellipse cx="898.6" cy="184.6" rx="4.9" ry="2.6" transform="rotate(10.5 898.6 184.0)" fill="#683042"/>
<ellipse cx="898.6" cy="183.6" rx="4.4" ry="2.05" transform="rotate(10.5 898.6 184.0)" fill="#cd4c50"/>
<ellipse cx="909.8" cy="186.7" rx="4.9" ry="2.6" transform="rotate(10.5 909.8 186.1)" fill="#683042"/>
<ellipse cx="909.8" cy="185.7" rx="4.4" ry="2.05" transform="rotate(10.5 909.8 186.1)" fill="#cd4c50"/>
<ellipse cx="921.0" cy="188.8" rx="4.9" ry="2.6" transform="rotate(10.5 921.0 188.2)" fill="#2c3f58"/>
<ellipse cx="921.0" cy="187.8" rx="4.4" ry="2.05" transform="rotate(10.5 921.0 188.2)" fill="#91a7c2"/>
<ellipse cx="932.2" cy="190.8" rx="4.9" ry="2.6" transform="rotate(10.5 932.2 190.2)" fill="#683042"/>
<ellipse cx="932.2" cy="189.9" rx="4.4" ry="2.05" transform="rotate(10.5 932.2 190.2)" fill="#cd4c50"/>
<ellipse cx="943.4" cy="192.9" rx="4.9" ry="2.6" transform="rotate(10.5 943.4 192.3)" fill="#2c3f58"/>
<ellipse cx="943.4" cy="192.0" rx="4.4" ry="2.05" transform="rotate(10.5 943.4 192.3)" fill="#91a7c2"/>
<ellipse cx="954.5" cy="195.0" rx="4.9" ry="2.6" transform="rotate(10.5 954.5 194.4)" fill="#2c3f58"/>
<ellipse cx="954.5" cy="194.1" rx="4.4" ry="2.05" transform="rotate(10.5 954.5 194.4)" fill="#91a7c2"/>
<ellipse cx="965.7" cy="197.1" rx="4.9" ry="2.6" transform="rotate(10.5 965.7 196.5)" fill="#2c3f58"/>
<ellipse cx="965.7" cy="196.1" rx="4.4" ry="2.05" transform="rotate(10.5 965.7 196.5)" fill="#91a7c2"/>
<ellipse cx="976.9" cy="199.2" rx="4.9" ry="2.6" transform="rotate(10.5 976.9 198.6)" fill="#2c3f58"/>
<ellipse cx="976.9" cy="198.2" rx="4.4" ry="2.05" transform="rotate(10.5 976.9 198.6)" fill="#91a7c2"/>
<ellipse cx="988.1" cy="201.3" rx="4.9" ry="2.6" transform="rotate(10.5 988.1 200.7)" fill="#2c3f58"/>
<ellipse cx="988.1" cy="200.3" rx="4.4" ry="2.05" transform="rotate(10.5 988.1 200.7)" fill="#91a7c2"/>
<ellipse cx="999.3" cy="203.3" rx="4.9" ry="2.6" transform="rotate(10.5 999.3 202.7)" fill="#683042"/>
<ellipse cx="999.3" cy="202.4" rx="4.4" ry="2.05" transform="rotate(10.5 999.3 202.7)" fill="#cd4c50"/>
<ellipse cx="1010.5" cy="205.4" rx="4.9" ry="2.6" transform="rotate(10.5 1010.5 204.8)" fill="#2c3f58"/>
<ellipse cx="1010.5" cy="204.5" rx="4.4" ry="2.05" transform="rotate(10.5 1010.5 204.8)" fill="#91a7c2"/>
<ellipse cx="1021.7" cy="207.5" rx="4.9" ry="2.6" transform="rotate(10.5 1021.7 206.9)" fill="#683042"/>
<ellipse cx="1021.7" cy="206.6" rx="4.4" ry="2.05" transform="rotate(10.5 1021.7 206.9)" fill="#cd4c50"/>
<ellipse cx="1032.9" cy="209.6" rx="4.9" ry="2.6" transform="rotate(10.5 1032.9 209.0)" fill="#2c3f58"/>
<ellipse cx="1032.9" cy="208.6" rx="4.4" ry="2.05" transform="rotate(10.5 1032.9 209.0)" fill="#91a7c2"/>
<ellipse cx="1044.1" cy="211.7" rx="4.9" ry="2.6" transform="rotate(10.5 1044.1 211.1)" fill="#2c3f58"/>
<ellipse cx="1044.1" cy="210.7" rx="4.4" ry="2.05" transform="rotate(10.5 1044.1 211.1)" fill="#91a7c2"/>
<ellipse cx="1055.2" cy="213.8" rx="4.9" ry="2.6" transform="rotate(10.5 1055.2 213.2)" fill="#683042"/>
<ellipse cx="1055.2" cy="212.8" rx="4.4" ry="2.05" transform="rotate(10.5 1055.2 213.2)" fill="#cd4c50"/>
<ellipse cx="1066.4" cy="215.8" rx="4.9" ry="2.6" transform="rotate(10.5 1066.4 215.2)" fill="#683042"/>
<ellipse cx="1066.4" cy="214.9" rx="4.4" ry="2.05" transform="rotate(10.5 1066.4 215.2)" fill="#cd4c50"/>
<ellipse cx="1077.6" cy="217.9" rx="4.9" ry="2.6" transform="rotate(10.5 1077.6 217.3)" fill="#683042"/>
<ellipse cx="1077.6" cy="217.0" rx="4.4" ry="2.05" transform="rotate(10.5 1077.6 217.3)" fill="#cd4c50"/>
<ellipse cx="1088.8" cy="220.0" rx="4.9" ry="2.6" transform="rotate(10.5 1088.8 219.4)" fill="#683042"/>
<ellipse cx="1088.8" cy="219.1" rx="4.4" ry="2.05" transform="rotate(10.5 1088.8 219.4)" fill="#cd4c50"/>
<ellipse cx="1100.0" cy="222.1" rx="4.9" ry="2.6" transform="rotate(10.5 1100.0 221.5)" fill="#2c3f58"/>
<ellipse cx="1100.0" cy="221.2" rx="4.4" ry="2.05" transform="rotate(10.5 1100.0 221.5)" fill="#91a7c2"/>
<ellipse cx="815.3" cy="174.0" rx="4.9" ry="2.6" transform="rotate(10.5 815.3 173.4)" fill="#2c3f58"/>
<ellipse cx="815.3" cy="173.0" rx="4.4" ry="2.05" transform="rotate(10.5 815.3 173.4)" fill="#91a7c2"/>
<ellipse cx="826.5" cy="176.1" rx="4.9" ry="2.6" transform="rotate(10.5 826.5 175.5)" fill="#2c3f58"/>
<ellipse cx="826.5" cy="175.1" rx="4.4" ry="2.05" transform="rotate(10.5 826.5 175.5)" fill="#91a7c2"/>
<ellipse cx="837.7" cy="178.1" rx="4.9" ry="2.6" transform="rotate(10.5 837.7 177.5)" fill="#2c3f58"/>
<ellipse cx="837.7" cy="177.2" rx="4.4" ry="2.05" transform="rotate(10.5 837.7 177.5)" fill="#91a7c2"/>
<ellipse cx="848.9" cy="180.2" rx="4.9" ry="2.6" transform="rotate(10.5 848.9 179.6)" fill="#2c3f58"/>
<ellipse cx="848.9" cy="179.3" rx="4.4" ry="2.05" transform="rotate(10.5 848.9 179.6)" fill="#91a7c2"/>
<ellipse cx="860.1" cy="182.3" rx="4.9" ry="2.6" transform="rotate(10.5 860.1 181.7)" fill="#2c3f58"/>
<ellipse cx="860.1" cy="181.4" rx="4.4" ry="2.05" transform="rotate(10.5 860.1 181.7)" fill="#91a7c2"/>
<ellipse cx="871.3" cy="184.4" rx="4.9" ry="2.6" transform="rotate(10.5 871.3 183.8)" fill="#2c3f58"/>
<ellipse cx="871.3" cy="183.4" rx="4.4" ry="2.05" transform="rotate(10.5 871.3 183.8)" fill="#91a7c2"/>
<ellipse cx="882.5" cy="186.5" rx="4.9" ry="2.6" transform="rotate(10.5 882.5 185.9)" fill="#2c3f58"/>
<ellipse cx="882.5" cy="185.5" rx="4.4" ry="2.05" transform="rotate(10.5 882.5 185.9)" fill="#91a7c2"/>
<ellipse cx="893.7" cy="188.6" rx="4.9" ry="2.6" transform="rotate(10.5 893.7 188.0)" fill="#2c3f58"/>
<ellipse cx="893.7" cy="187.6" rx="4.4" ry="2.05" transform="rotate(10.5 893.7 188.0)" fill="#91a7c2"/>
<ellipse cx="904.8" cy="190.7" rx="4.9" ry="2.6" transform="rotate(10.5 904.8 190.1)" fill="#2c3f58"/>
<ellipse cx="904.8" cy="189.7" rx="4.4" ry="2.05" transform="rotate(10.5 904.8 190.1)" fill="#91a7c2"/>
<ellipse cx="916.0" cy="192.7" rx="4.9" ry="2.6" transform="rotate(10.5 916.0 192.1)" fill="#2c3f58"/>
<ellipse cx="916.0" cy="191.8" rx="4.4" ry="2.05" transform="rotate(10.5 916.0 192.1)" fill="#91a7c2"/>
<ellipse cx="927.2" cy="194.8" rx="4.9" ry="2.6" transform="rotate(10.5 927.2 194.2)" fill="#2c3f58"/>
<ellipse cx="927.2" cy="193.9" rx="4.4" ry="2.05" transform="rotate(10.5 927.2 194.2)" fill="#91a7c2"/>
<ellipse cx="938.4" cy="196.9" rx="4.9" ry="2.6" transform="rotate(10.5 938.4 196.3)" fill="#683042"/>
<ellipse cx="938.4" cy="196.0" rx="4.4" ry="2.05" transform="rotate(10.5 938.4 196.3)" fill="#cd4c50"/>
<ellipse cx="949.6" cy="199.0" rx="4.9" ry="2.6" transform="rotate(10.5 949.6 198.4)" fill="#2c3f58"/>
<ellipse cx="949.6" cy="198.0" rx="4.4" ry="2.05" transform="rotate(10.5 949.6 198.4)" fill="#91a7c2"/>
<ellipse cx="960.8" cy="201.1" rx="4.9" ry="2.6" transform="rotate(10.5 960.8 200.5)" fill="#2c3f58"/>
<ellipse cx="960.8" cy="200.1" rx="4.4" ry="2.05" transform="rotate(10.5 960.8 200.5)" fill="#91a7c2"/>
<ellipse cx="972.0" cy="203.2" rx="4.9" ry="2.6" transform="rotate(10.5 972.0 202.6)" fill="#2c3f58"/>
<ellipse cx="972.0" cy="202.2" rx="4.4" ry="2.05" transform="rotate(10.5 972.0 202.6)" fill="#91a7c2"/>
<ellipse cx="983.2" cy="205.2" rx="4.9" ry="2.6" transform="rotate(10.5 983.2 204.6)" fill="#2c3f58"/>
<ellipse cx="983.2" cy="204.3" rx="4.4" ry="2.05" transform="rotate(10.5 983.2 204.6)" fill="#91a7c2"/>
<ellipse cx="994.4" cy="207.3" rx="4.9" ry="2.6" transform="rotate(10.5 994.4 206.7)" fill="#683042"/>
<ellipse cx="994.4" cy="206.4" rx="4.4" ry="2.05" transform="rotate(10.5 994.4 206.7)" fill="#cd4c50"/>
<ellipse cx="1005.5" cy="209.4" rx="4.9" ry="2.6" transform="rotate(10.5 1005.5 208.8)" fill="#683042"/>
<ellipse cx="1005.5" cy="208.5" rx="4.4" ry="2.05" transform="rotate(10.5 1005.5 208.8)" fill="#cd4c50"/>
<ellipse cx="1016.7" cy="211.5" rx="4.9" ry="2.6" transform="rotate(10.5 1016.7 210.9)" fill="#683042"/>
<ellipse cx="1016.7" cy="210.5" rx="4.4" ry="2.05" transform="rotate(10.5 1016.7 210.9)" fill="#cd4c50"/>
<ellipse cx="1027.9" cy="213.6" rx="4.9" ry="2.6" transform="rotate(10.5 1027.9 213.0)" fill="#2c3f58"/>
<ellipse cx="1027.9" cy="212.6" rx="4.4" ry="2.05" transform="rotate(10.5 1027.9 213.0)" fill="#91a7c2"/>
<ellipse cx="1039.1" cy="215.7" rx="4.9" ry="2.6" transform="rotate(10.5 1039.1 215.1)" fill="#683042"/>
<ellipse cx="1039.1" cy="214.7" rx="4.4" ry="2.05" transform="rotate(10.5 1039.1 215.1)" fill="#cd4c50"/>
<ellipse cx="1050.3" cy="217.7" rx="4.9" ry="2.6" transform="rotate(10.5 1050.3 217.1)" fill="#683042"/>
<ellipse cx="1050.3" cy="216.8" rx="4.4" ry="2.05" transform="rotate(10.5 1050.3 217.1)" fill="#cd4c50"/>
<ellipse cx="1061.5" cy="219.8" rx="4.9" ry="2.6" transform="rotate(10.5 1061.5 219.2)" fill="#683042"/>
<ellipse cx="1061.5" cy="218.9" rx="4.4" ry="2.05" transform="rotate(10.5 1061.5 219.2)" fill="#cd4c50"/>
<ellipse cx="1072.7" cy="221.9" rx="4.9" ry="2.6" transform="rotate(10.5 1072.7 221.3)" fill="#683042"/>
<ellipse cx="1072.7" cy="221.0" rx="4.4" ry="2.05" transform="rotate(10.5 1072.7 221.3)" fill="#cd4c50"/>
<ellipse cx="1083.9" cy="224.0" rx="4.9" ry="2.6" transform="rotate(10.5 1083.9 223.4)" fill="#2c3f58"/>
<ellipse cx="1083.9" cy="223.1" rx="4.4" ry="2.05" transform="rotate(10.5 1083.9 223.4)" fill="#91a7c2"/>
<ellipse cx="1095.0" cy="226.1" rx="4.9" ry="2.6" transform="rotate(10.5 1095.0 225.5)" fill="#683042"/>
<ellipse cx="1095.0" cy="225.1" rx="4.4" ry="2.05" transform="rotate(10.5 1095.0 225.5)" fill="#cd4c50"/>
<ellipse cx="810.4" cy="178.0" rx="4.9" ry="2.6" transform="rotate(10.5 810.4 177.4)" fill="#2c3f58"/>
<ellipse cx="810.4" cy="177.0" rx="4.4" ry="2.05" transform="rotate(10.5 810.4 177.4)" fill="#91a7c2"/>
<ellipse cx="821.6" cy="180.0" rx="4.9" ry="2.6" transform="rotate(10.5 821.6 179.4)" fill="#2c3f58"/>
<ellipse cx="821.6" cy="179.1" rx="4.4" ry="2.05" transform="rotate(10.5 821.6 179.4)" fill="#91a7c2"/>
<ellipse cx="832.8" cy="182.1" rx="4.9" ry="2.6" transform="rotate(10.5 832.8 181.5)" fill="#2c3f58"/>
<ellipse cx="832.8" cy="181.2" rx="4.4" ry="2.05" transform="rotate(10.5 832.8 181.5)" fill="#91a7c2"/>
<ellipse cx="843.9" cy="184.2" rx="4.9" ry="2.6" transform="rotate(10.5 843.9 183.6)" fill="#2c3f58"/>
<ellipse cx="843.9" cy="183.3" rx="4.4" ry="2.05" transform="rotate(10.5 843.9 183.6)" fill="#91a7c2"/>
<ellipse cx="855.1" cy="186.3" rx="4.9" ry="2.6" transform="rotate(10.5 855.1 185.7)" fill="#683042"/>
<ellipse cx="855.1" cy="185.3" rx="4.4" ry="2.05" transform="rotate(10.5 855.1 185.7)" fill="#cd4c50"/>
<ellipse cx="866.3" cy="188.4" rx="4.9" ry="2.6" transform="rotate(10.5 866.3 187.8)" fill="#2c3f58"/>
<ellipse cx="866.3" cy="187.4" rx="4.4" ry="2.05" transform="rotate(10.5 866.3 187.8)" fill="#91a7c2"/>
<ellipse cx="877.5" cy="190.5" rx="4.9" ry="2.6" transform="rotate(10.5 877.5 189.9)" fill="#2c3f58"/>
<ellipse cx="877.5" cy="189.5" rx="4.4" ry="2.05" transform="rotate(10.5 877.5 189.9)" fill="#91a7c2"/>
<ellipse cx="888.7" cy="192.6" rx="4.9" ry="2.6" transform="rotate(10.5 888.7 192.0)" fill="#683042"/>
<ellipse cx="888.7" cy="191.6" rx="4.4" ry="2.05" transform="rotate(10.5 888.7 192.0)" fill="#cd4c50"/>
<ellipse cx="899.9" cy="194.6" rx="4.9" ry="2.6" transform="rotate(10.5 899.9 194.0)" fill="#683042"/>
<ellipse cx="899.9" cy="193.7" rx="4.4" ry="2.05" transform="rotate(10.5 899.9 194.0)" fill="#cd4c50"/>
<ellipse cx="911.1" cy="196.7" rx="4.9" ry="2.6" transform="rotate(10.5 911.1 196.1)" fill="#683042"/>
<ellipse cx="911.1" cy="195.8" rx="4.4" ry="2.05" transform="rotate(10.5 911.1 196.1)" fill="#cd4c50"/>
<ellipse cx="922.3" cy="198.8" rx="4.9" ry="2.6" transform="rotate(10.5 922.3 198.2)" fill="#683042"/>
<ellipse cx="922.3" cy="197.9" rx="4.4" ry="2.05" transform="rotate(10.5 922.3 198.2)" fill="#cd4c50"/>
<ellipse cx="933.5" cy="200.9" rx="4.9" ry="2.6" transform="rotate(10.5 933.5 200.3)" fill="#683042"/>
<ellipse cx="933.5" cy="199.9" rx="4.4" ry="2.05" transform="rotate(10.5 933.5 200.3)" fill="#cd4c50"/>
<ellipse cx="944.6" cy="203.0" rx="4.9" ry="2.6" transform="rotate(10.5 944.6 202.4)" fill="#2c3f58"/>
<ellipse cx="944.6" cy="202.0" rx="4.4" ry="2.05" transform="rotate(10.5 944.6 202.4)" fill="#91a7c2"/>
<ellipse cx="955.8" cy="205.1" rx="4.9" ry="2.6" transform="rotate(10.5 955.8 204.5)" fill="#2c3f58"/>
<ellipse cx="955.8" cy="204.1" rx="4.4" ry="2.05" transform="rotate(10.5 955.8 204.5)" fill="#91a7c2"/>
<ellipse cx="967.0" cy="207.1" rx="4.9" ry="2.6" transform="rotate(10.5 967.0 206.5)" fill="#2c3f58"/>
<ellipse cx="967.0" cy="206.2" rx="4.4" ry="2.05" transform="rotate(10.5 967.0 206.5)" fill="#91a7c2"/>
<ellipse cx="978.2" cy="209.2" rx="4.9" ry="2.6" transform="rotate(10.5 978.2 208.6)" fill="#2c3f58"/>
<ellipse cx="978.2" cy="208.3" rx="4.4" ry="2.05" transform="rotate(10.5 978.2 208.6)" fill="#91a7c2"/>
<ellipse cx="989.4" cy="211.3" rx="4.9" ry="2.6" transform="rotate(10.5 989.4 210.7)" fill="#683042"/>
<ellipse cx="989.4" cy="210.4" rx="4.4" ry="2.05" transform="rotate(10.5 989.4 210.7)" fill="#cd4c50"/>
<ellipse cx="1000.6" cy="213.4" rx="4.9" ry="2.6" transform="rotate(10.5 1000.6 212.8)" fill="#683042"/>
<ellipse cx="1000.6" cy="212.4" rx="4.4" ry="2.05" transform="rotate(10.5 1000.6 212.8)" fill="#cd4c50"/>
<ellipse cx="1011.8" cy="215.5" rx="4.9" ry="2.6" transform="rotate(10.5 1011.8 214.9)" fill="#683042"/>
<ellipse cx="1011.8" cy="214.5" rx="4.4" ry="2.05" transform="rotate(10.5 1011.8 214.9)" fill="#cd4c50"/>
<ellipse cx="1023.0" cy="217.6" rx="4.9" ry="2.6" transform="rotate(10.5 1023.0 217.0)" fill="#683042"/>
<ellipse cx="1023.0" cy="216.6" rx="4.4" ry="2.05" transform="rotate(10.5 1023.0 217.0)" fill="#cd4c50"/>
<ellipse cx="1034.2" cy="219.6" rx="4.9" ry="2.6" transform="rotate(10.5 1034.2 219.0)" fill="#2c3f58"/>
<ellipse cx="1034.2" cy="218.7" rx="4.4" ry="2.05" transform="rotate(10.5 1034.2 219.0)" fill="#91a7c2"/>
<ellipse cx="1045.3" cy="221.7" rx="4.9" ry="2.6" transform="rotate(10.5 1045.3 221.1)" fill="#683042"/>
<ellipse cx="1045.3" cy="220.8" rx="4.4" ry="2.05" transform="rotate(10.5 1045.3 221.1)" fill="#cd4c50"/>
<ellipse cx="1056.5" cy="223.8" rx="4.9" ry="2.6" transform="rotate(10.5 1056.5 223.2)" fill="#683042"/>
<ellipse cx="1056.5" cy="222.9" rx="4.4" ry="2.05" transform="rotate(10.5 1056.5 223.2)" fill="#cd4c50"/>
<ellipse cx="1067.7" cy="225.9" rx="4.9" ry="2.6" transform="rotate(10.5 1067.7 225.3)" fill="#2c3f58"/>
<ellipse cx="1067.7" cy="225.0" rx="4.4" ry="2.05" transform="rotate(10.5 1067.7 225.3)" fill="#91a7c2"/>
<ellipse cx="1078.9" cy="228.0" rx="4.9" ry="2.6" transform="rotate(10.5 1078.9 227.4)" fill="#2c3f58"/>
<ellipse cx="1078.9" cy="227.0" rx="4.4" ry="2.05" transform="rotate(10.5 1078.9 227.4)" fill="#91a7c2"/>
<ellipse cx="1090.1" cy="230.1" rx="4.9" ry="2.6" transform="rotate(10.5 1090.1 229.5)" fill="#683042"/>
<ellipse cx="1090.1" cy="229.1" rx="4.4" ry="2.05" transform="rotate(10.5 1090.1 229.5)" fill="#cd4c50"/>
<ellipse cx="805.4" cy="181.9" rx="4.9" ry="2.6" transform="rotate(10.5 805.4 181.3)" fill="#2c3f58"/>
<ellipse cx="805.4" cy="181.0" rx="4.4" ry="2.05" transform="rotate(10.5 805.4 181.3)" fill="#91a7c2"/>
<ellipse cx="816.6" cy="184.0" rx="4.9" ry="2.6" transform="rotate(10.5 816.6 183.4)" fill="#2c3f58"/>
<ellipse cx="816.6" cy="183.1" rx="4.4" ry="2.05" transform="rotate(10.5 816.6 183.4)" fill="#91a7c2"/>
<ellipse cx="827.8" cy="186.1" rx="4.9" ry="2.6" transform="rotate(10.5 827.8 185.5)" fill="#2c3f58"/>
<ellipse cx="827.8" cy="185.2" rx="4.4" ry="2.05" transform="rotate(10.5 827.8 185.5)" fill="#91a7c2"/>
<ellipse cx="839.0" cy="188.2" rx="4.9" ry="2.6" transform="rotate(10.5 839.0 187.6)" fill="#2c3f58"/>
<ellipse cx="839.0" cy="187.2" rx="4.4" ry="2.05" transform="rotate(10.5 839.0 187.6)" fill="#91a7c2"/>
<ellipse cx="850.2" cy="190.3" rx="4.9" ry="2.6" transform="rotate(10.5 850.2 189.7)" fill="#2c3f58"/>
<ellipse cx="850.2" cy="189.3" rx="4.4" ry="2.05" transform="rotate(10.5 850.2 189.7)" fill="#91a7c2"/>
<ellipse cx="861.4" cy="192.4" rx="4.9" ry="2.6" transform="rotate(10.5 861.4 191.8)" fill="#2c3f58"/>
<ellipse cx="861.4" cy="191.4" rx="4.4" ry="2.05" transform="rotate(10.5 861.4 191.8)" fill="#91a7c2"/>
<ellipse cx="872.6" cy="194.5" rx="4.9" ry="2.6" transform="rotate(10.5 872.6 193.9)" fill="#683042"/>
<ellipse cx="872.6" cy="193.5" rx="4.4" ry="2.05" transform="rotate(10.5 872.6 193.9)" fill="#cd4c50"/>
<ellipse cx="883.8" cy="196.5" rx="4.9" ry="2.6" transform="rotate(10.5 883.8 195.9)" fill="#683042"/>
<ellipse cx="883.8" cy="195.6" rx="4.4" ry="2.05" transform="rotate(10.5 883.8 195.9)" fill="#cd4c50"/>
<ellipse cx="894.9" cy="198.6" rx="4.9" ry="2.6" transform="rotate(10.5 894.9 198.0)" fill="#683042"/>
<ellipse cx="894.9" cy="197.7" rx="4.4" ry="2.05" transform="rotate(10.5 894.9 198.0)" fill="#cd4c50"/>
<ellipse cx="906.1" cy="200.7" rx="4.9" ry="2.6" transform="rotate(10.5 906.1 200.1)" fill="#2c3f58"/>
<ellipse cx="906.1" cy="199.8" rx="4.4" ry="2.05" transform="rotate(10.5 906.1 200.1)" fill="#91a7c2"/>
<ellipse cx="917.3" cy="202.8" rx="4.9" ry="2.6" transform="rotate(10.5 917.3 202.2)" fill="#2c3f58"/>
<ellipse cx="917.3" cy="201.8" rx="4.4" ry="2.05" transform="rotate(10.5 917.3 202.2)" fill="#91a7c2"/>
<ellipse cx="928.5" cy="204.9" rx="4.9" ry="2.6" transform="rotate(10.5 928.5 204.3)" fill="#2c3f58"/>
<ellipse cx="928.5" cy="203.9" rx="4.4" ry="2.05" transform="rotate(10.5 928.5 204.3)" fill="#91a7c2"/>
<ellipse cx="939.7" cy="207.0" rx="4.9" ry="2.6" transform="rotate(10.5 939.7 206.4)" fill="#683042"/>
<ellipse cx="939.7" cy="206.0" rx="4.4" ry="2.05" transform="rotate(10.5 939.7 206.4)" fill="#cd4c50"/>
<ellipse cx="950.9" cy="209.0" rx="4.9" ry="2.6" transform="rotate(10.5 950.9 208.4)" fill="#683042"/>
<ellipse cx="950.9" cy="208.1" rx="4.4" ry="2.05" transform="rotate(10.5 950.9 208.4)" fill="#cd4c50"/>
<ellipse cx="962.1" cy="211.1" rx="4.9" ry="2.6" transform="rotate(10.5 962.1 210.5)" fill="#2c3f58"/>
<ellipse cx="962.1" cy="210.2" rx="4.4" ry="2.05" transform="rotate(10.5 962.1 210.5)" fill="#91a7c2"/>
<ellipse cx="973.3" cy="213.2" rx="4.9" ry="2.6" transform="rotate(10.5 973.3 212.6)" fill="#2c3f58"/>
<ellipse cx="973.3" cy="212.3" rx="4.4" ry="2.05" transform="rotate(10.5 973.3 212.6)" fill="#91a7c2"/>
<ellipse cx="984.5" cy="215.3" rx="4.9" ry="2.6" transform="rotate(10.5 984.5 214.7)" fill="#2c3f58"/>
<ellipse cx="984.5" cy="214.3" rx="4.4" ry="2.05" transform="rotate(10.5 984.5 214.7)" fill="#91a7c2"/>
<ellipse cx="995.6" cy="217.4" rx="4.9" ry="2.6" transform="rotate(10.5 995.6 216.8)" fill="#2c3f58"/>
<ellipse cx="995.6" cy="216.4" rx="4.4" ry="2.05" transform="rotate(10.5 995.6 216.8)" fill="#91a7c2"/>
<ellipse cx="1006.8" cy="219.5" rx="4.9" ry="2.6" transform="rotate(10.5 1006.8 218.9)" fill="#2c3f58"/>
<ellipse cx="1006.8" cy="218.5" rx="4.4" ry="2.05" transform="rotate(10.5 1006.8 218.9)" fill="#91a7c2"/>
<ellipse cx="1018.0" cy="221.5" rx="4.9" ry="2.6" transform="rotate(10.5 1018.0 220.9)" fill="#2c3f58"/>
<ellipse cx="1018.0" cy="220.6" rx="4.4" ry="2.05" transform="rotate(10.5 1018.0 220.9)" fill="#91a7c2"/>
<ellipse cx="1029.2" cy="223.6" rx="4.9" ry="2.6" transform="rotate(10.5 1029.2 223.0)" fill="#683042"/>
<ellipse cx="1029.2" cy="222.7" rx="4.4" ry="2.05" transform="rotate(10.5 1029.2 223.0)" fill="#cd4c50"/>
<ellipse cx="1040.4" cy="225.7" rx="4.9" ry="2.6" transform="rotate(10.5 1040.4 225.1)" fill="#2c3f58"/>
<ellipse cx="1040.4" cy="224.8" rx="4.4" ry="2.05" transform="rotate(10.5 1040.4 225.1)" fill="#91a7c2"/>
<ellipse cx="1051.6" cy="227.8" rx="4.9" ry="2.6" transform="rotate(10.5 1051.6 227.2)" fill="#683042"/>
<ellipse cx="1051.6" cy="226.9" rx="4.4" ry="2.05" transform="rotate(10.5 1051.6 227.2)" fill="#cd4c50"/>
<ellipse cx="1062.8" cy="229.9" rx="4.9" ry="2.6" transform="rotate(10.5 1062.8 229.3)" fill="#683042"/>
<ellipse cx="1062.8" cy="228.9" rx="4.4" ry="2.05" transform="rotate(10.5 1062.8 229.3)" fill="#cd4c50"/>
<ellipse cx="1074.0" cy="232.0" rx="4.9" ry="2.6" transform="rotate(10.5 1074.0 231.4)" fill="#683042"/>
<ellipse cx="1074.0" cy="231.0" rx="4.4" ry="2.05" transform="rotate(10.5 1074.0 231.4)" fill="#cd4c50"/>
<ellipse cx="1085.2" cy="234.1" rx="4.9" ry="2.6" transform="rotate(10.5 1085.2 233.5)" fill="#2c3f58"/>
<ellipse cx="1085.2" cy="233.1" rx="4.4" ry="2.05" transform="rotate(10.5 1085.2 233.5)" fill="#91a7c2"/>
<ellipse cx="800.5" cy="185.9" rx="4.9" ry="2.6" transform="rotate(10.5 800.5 185.3)" fill="#2c3f58"/>
<ellipse cx="800.5" cy="185.0" rx="4.4" ry="2.05" transform="rotate(10.5 800.5 185.3)" fill="#91a7c2"/>
<ellipse cx="811.7" cy="188.0" rx="4.9" ry="2.6" transform="rotate(10.5 811.7 187.4)" fill="#2c3f58"/>
<ellipse cx="811.7" cy="187.1" rx="4.4" ry="2.05" transform="rotate(10.5 811.7 187.4)" fill="#91a7c2"/>
<ellipse cx="822.9" cy="190.1" rx="4.9" ry="2.6" transform="rotate(10.5 822.9 189.5)" fill="#2c3f58"/>
<ellipse cx="822.9" cy="189.2" rx="4.4" ry="2.05" transform="rotate(10.5 822.9 189.5)" fill="#91a7c2"/>
<ellipse cx="834.1" cy="192.2" rx="4.9" ry="2.6" transform="rotate(10.5 834.1 191.6)" fill="#2c3f58"/>
<ellipse cx="834.1" cy="191.2" rx="4.4" ry="2.05" transform="rotate(10.5 834.1 191.6)" fill="#91a7c2"/>
<ellipse cx="845.2" cy="194.3" rx="4.9" ry="2.6" transform="rotate(10.5 845.2 193.7)" fill="#2c3f58"/>
<ellipse cx="845.2" cy="193.3" rx="4.4" ry="2.05" transform="rotate(10.5 845.2 193.7)" fill="#91a7c2"/>
<ellipse cx="856.4" cy="196.4" rx="4.9" ry="2.6" transform="rotate(10.5 856.4 195.8)" fill="#2c3f58"/>
<ellipse cx="856.4" cy="195.4" rx="4.4" ry="2.05" transform="rotate(10.5 856.4 195.8)" fill="#91a7c2"/>
<ellipse cx="867.6" cy="198.4" rx="4.9" ry="2.6" transform="rotate(10.5 867.6 197.8)" fill="#2c3f58"/>
<ellipse cx="867.6" cy="197.5" rx="4.4" ry="2.05" transform="rotate(10.5 867.6 197.8)" fill="#91a7c2"/>
<ellipse cx="878.8" cy="200.5" rx="4.9" ry="2.6" transform="rotate(10.5 878.8 199.9)" fill="#683042"/>
<ellipse cx="878.8" cy="199.6" rx="4.4" ry="2.05" transform="rotate(10.5 878.8 199.9)" fill="#cd4c50"/>
<ellipse cx="890.0" cy="202.6" rx="4.9" ry="2.6" transform="rotate(10.5 890.0 202.0)" fill="#683042"/>
<ellipse cx="890.0" cy="201.7" rx="4.4" ry="2.05" transform="rotate(10.5 890.0 202.0)" fill="#cd4c50"/>
<ellipse cx="901.2" cy="204.7" rx="4.9" ry="2.6" transform="rotate(10.5 901.2 204.1)" fill="#683042"/>
<ellipse cx="901.2" cy="203.7" rx="4.4" ry="2.05" transform="rotate(10.5 901.2 204.1)" fill="#cd4c50"/>
<ellipse cx="912.4" cy="206.8" rx="4.9" ry="2.6" transform="rotate(10.5 912.4 206.2)" fill="#683042"/>
<ellipse cx="912.4" cy="205.8" rx="4.4" ry="2.05" transform="rotate(10.5 912.4 206.2)" fill="#cd4c50"/>
<ellipse cx="923.6" cy="208.9" rx="4.9" ry="2.6" transform="rotate(10.5 923.6 208.3)" fill="#683042"/>
<ellipse cx="923.6" cy="207.9" rx="4.4" ry="2.05" transform="rotate(10.5 923.6 208.3)" fill="#cd4c50"/>
<ellipse cx="934.8" cy="210.9" rx="4.9" ry="2.6" transform="rotate(10.5 934.8 210.3)" fill="#2c3f58"/>
<ellipse cx="934.8" cy="210.0" rx="4.4" ry="2.05" transform="rotate(10.5 934.8 210.3)" fill="#91a7c2"/>
<ellipse cx="945.9" cy="213.0" rx="4.9" ry="2.6" transform="rotate(10.5 945.9 212.4)" fill="#2c3f58"/>
<ellipse cx="945.9" cy="212.1" rx="4.4" ry="2.05" transform="rotate(10.5 945.9 212.4)" fill="#91a7c2"/>
<ellipse cx="957.1" cy="215.1" rx="4.9" ry="2.6" transform="rotate(10.5 957.1 214.5)" fill="#2c3f58"/>
<ellipse cx="957.1" cy="214.2" rx="4.4" ry="2.05" transform="rotate(10.5 957.1 214.5)" fill="#91a7c2"/>
<ellipse cx="968.3" cy="217.2" rx="4.9" ry="2.6" transform="rotate(10.5 968.3 216.6)" fill="#2c3f58"/>
<ellipse cx="968.3" cy="216.2" rx="4.4" ry="2.05" transform="rotate(10.5 968.3 216.6)" fill="#91a7c2"/>
<ellipse cx="979.5" cy="219.3" rx="4.9" ry="2.6" transform="rotate(10.5 979.5 218.7)" fill="#2c3f58"/>
<ellipse cx="979.5" cy="218.3" rx="4.4" ry="2.05" transform="rotate(10.5 979.5 218.7)" fill="#91a7c2"/>
<ellipse cx="990.7" cy="221.4" rx="4.9" ry="2.6" transform="rotate(10.5 990.7 220.8)" fill="#2c3f58"/>
<ellipse cx="990.7" cy="220.4" rx="4.4" ry="2.05" transform="rotate(10.5 990.7 220.8)" fill="#91a7c2"/>
<ellipse cx="1001.9" cy="223.5" rx="4.9" ry="2.6" transform="rotate(10.5 1001.9 222.9)" fill="#683042"/>
<ellipse cx="1001.9" cy="222.5" rx="4.4" ry="2.05" transform="rotate(10.5 1001.9 222.9)" fill="#cd4c50"/>
<ellipse cx="1013.1" cy="225.5" rx="4.9" ry="2.6" transform="rotate(10.5 1013.1 224.9)" fill="#2c3f58"/>
<ellipse cx="1013.1" cy="224.6" rx="4.4" ry="2.05" transform="rotate(10.5 1013.1 224.9)" fill="#91a7c2"/>
<ellipse cx="1024.3" cy="227.6" rx="4.9" ry="2.6" transform="rotate(10.5 1024.3 227.0)" fill="#2c3f58"/>
<ellipse cx="1024.3" cy="226.7" rx="4.4" ry="2.05" transform="rotate(10.5 1024.3 227.0)" fill="#91a7c2"/>
<ellipse cx="1035.5" cy="229.7" rx="4.9" ry="2.6" transform="rotate(10.5 1035.5 229.1)" fill="#2c3f58"/>
<ellipse cx="1035.5" cy="228.8" rx="4.4" ry="2.05" transform="rotate(10.5 1035.5 229.1)" fill="#91a7c2"/>
<ellipse cx="1046.6" cy="231.8" rx="4.9" ry="2.6" transform="rotate(10.5 1046.6 231.2)" fill="#2c3f58"/>
<ellipse cx="1046.6" cy="230.8" rx="4.4" ry="2.05" transform="rotate(10.5 1046.6 231.2)" fill="#91a7c2"/>
<ellipse cx="1057.8" cy="233.9" rx="4.9" ry="2.6" transform="rotate(10.5 1057.8 233.3)" fill="#2c3f58"/>
<ellipse cx="1057.8" cy="232.9" rx="4.4" ry="2.05" transform="rotate(10.5 1057.8 233.3)" fill="#91a7c2"/>
<ellipse cx="1069.0" cy="236.0" rx="4.9" ry="2.6" transform="rotate(10.5 1069.0 235.4)" fill="#683042"/>
<ellipse cx="1069.0" cy="235.0" rx="4.4" ry="2.05" transform="rotate(10.5 1069.0 235.4)" fill="#cd4c50"/>
<ellipse cx="1080.2" cy="238.0" rx="4.9" ry="2.6" transform="rotate(10.5 1080.2 237.4)" fill="#2c3f58"/>
<ellipse cx="1080.2" cy="237.1" rx="4.4" ry="2.05" transform="rotate(10.5 1080.2 237.4)" fill="#91a7c2"/>
<ellipse cx="795.5" cy="189.9" rx="4.9" ry="2.6" transform="rotate(10.5 795.5 189.3)" fill="#2c3f58"/>
<ellipse cx="795.5" cy="189.0" rx="4.4" ry="2.05" transform="rotate(10.5 795.5 189.3)" fill="#91a7c2"/>
<ellipse cx="806.7" cy="192.0" rx="4.9" ry="2.6" transform="rotate(10.5 806.7 191.4)" fill="#2c3f58"/>
<ellipse cx="806.7" cy="191.1" rx="4.4" ry="2.05" transform="rotate(10.5 806.7 191.4)" fill="#91a7c2"/>
<ellipse cx="817.9" cy="194.1" rx="4.9" ry="2.6" transform="rotate(10.5 817.9 193.5)" fill="#2c3f58"/>
<ellipse cx="817.9" cy="193.1" rx="4.4" ry="2.05" transform="rotate(10.5 817.9 193.5)" fill="#91a7c2"/>
<ellipse cx="829.1" cy="196.2" rx="4.9" ry="2.6" transform="rotate(10.5 829.1 195.6)" fill="#2c3f58"/>
<ellipse cx="829.1" cy="195.2" rx="4.4" ry="2.05" transform="rotate(10.5 829.1 195.6)" fill="#91a7c2"/>
<ellipse cx="840.3" cy="198.3" rx="4.9" ry="2.6" transform="rotate(10.5 840.3 197.7)" fill="#2c3f58"/>
<ellipse cx="840.3" cy="197.3" rx="4.4" ry="2.05" transform="rotate(10.5 840.3 197.7)" fill="#91a7c2"/>
<ellipse cx="851.5" cy="200.3" rx="4.9" ry="2.6" transform="rotate(10.5 851.5 199.7)" fill="#2c3f58"/>
<ellipse cx="851.5" cy="199.4" rx="4.4" ry="2.05" transform="rotate(10.5 851.5 199.7)" fill="#91a7c2"/>
<ellipse cx="862.7" cy="202.4" rx="4.9" ry="2.6" transform="rotate(10.5 862.7 201.8)" fill="#2c3f58"/>
<ellipse cx="862.7" cy="201.5" rx="4.4" ry="2.05" transform="rotate(10.5 862.7 201.8)" fill="#91a7c2"/>
<ellipse cx="873.9" cy="204.5" rx="4.9" ry="2.6" transform="rotate(10.5 873.9 203.9)" fill="#683042"/>
<ellipse cx="873.9" cy="203.6" rx="4.4" ry="2.05" transform="rotate(10.5 873.9 203.9)" fill="#cd4c50"/>
<ellipse cx="885.1" cy="206.6" rx="4.9" ry="2.6" transform="rotate(10.5 885.1 206.0)" fill="#683042"/>
<ellipse cx="885.1" cy="205.6" rx="4.4" ry="2.05" transform="rotate(10.5 885.1 206.0)" fill="#cd4c50"/>
<ellipse cx="896.2" cy="208.7" rx="4.9" ry="2.6" transform="rotate(10.5 896.2 208.1)" fill="#683042"/>
<ellipse cx="896.2" cy="207.7" rx="4.4" ry="2.05" transform="rotate(10.5 896.2 208.1)" fill="#cd4c50"/>
<ellipse cx="907.4" cy="210.8" rx="4.9" ry="2.6" transform="rotate(10.5 907.4 210.2)" fill="#2c3f58"/>
<ellipse cx="907.4" cy="209.8" rx="4.4" ry="2.05" transform="rotate(10.5 907.4 210.2)" fill="#91a7c2"/>
<ellipse cx="918.6" cy="212.8" rx="4.9" ry="2.6" transform="rotate(10.5 918.6 212.2)" fill="#2c3f58"/>
<ellipse cx="918.6" cy="211.9" rx="4.4" ry="2.05" transform="rotate(10.5 918.6 212.2)" fill="#91a7c2"/>
<ellipse cx="929.8" cy="214.9" rx="4.9" ry="2.6" transform="rotate(10.5 929.8 214.3)" fill="#683042"/>
<ellipse cx="929.8" cy="214.0" rx="4.4" ry="2.05" transform="rotate(10.5 929.8 214.3)" fill="#cd4c50"/>
<ellipse cx="941.0" cy="217.0" rx="4.9" ry="2.6" transform="rotate(10.5 941.0 216.4)" fill="#2c3f58"/>
<ellipse cx="941.0" cy="216.1" rx="4.4" ry="2.05" transform="rotate(10.5 941.0 216.4)" fill="#91a7c2"/>
<ellipse cx="952.2" cy="219.1" rx="4.9" ry="2.6" transform="rotate(10.5 952.2 218.5)" fill="#2c3f58"/>
<ellipse cx="952.2" cy="218.1" rx="4.4" ry="2.05" transform="rotate(10.5 952.2 218.5)" fill="#91a7c2"/>
<ellipse cx="963.4" cy="221.2" rx="4.9" ry="2.6" transform="rotate(10.5 963.4 220.6)" fill="#2c3f58"/>
<ellipse cx="963.4" cy="220.2" rx="4.4" ry="2.05" transform="rotate(10.5 963.4 220.6)" fill="#91a7c2"/>
<ellipse cx="974.6" cy="223.3" rx="4.9" ry="2.6" transform="rotate(10.5 974.6 222.7)" fill="#683042"/>
<ellipse cx="974.6" cy="222.3" rx="4.4" ry="2.05" transform="rotate(10.5 974.6 222.7)" fill="#cd4c50"/>
<ellipse cx="985.7" cy="225.4" rx="4.9" ry="2.6" transform="rotate(10.5 985.7 224.8)" fill="#2c3f58"/>
<ellipse cx="985.7" cy="224.4" rx="4.4" ry="2.05" transform="rotate(10.5 985.7 224.8)" fill="#91a7c2"/>
<ellipse cx="996.9" cy="227.4" rx="4.9" ry="2.6" transform="rotate(10.5 996.9 226.8)" fill="#683042"/>
<ellipse cx="996.9" cy="226.5" rx="4.4" ry="2.05" transform="rotate(10.5 996.9 226.8)" fill="#cd4c50"/>
<ellipse cx="1008.1" cy="229.5" rx="4.9" ry="2.6" transform="rotate(10.5 1008.1 228.9)" fill="#683042"/>
<ellipse cx="1008.1" cy="228.6" rx="4.4" ry="2.05" transform="rotate(10.5 1008.1 228.9)" fill="#cd4c50"/>
<ellipse cx="1019.3" cy="231.6" rx="4.9" ry="2.6" transform="rotate(10.5 1019.3 231.0)" fill="#2c3f58"/>
<ellipse cx="1019.3" cy="230.7" rx="4.4" ry="2.05" transform="rotate(10.5 1019.3 231.0)" fill="#91a7c2"/>
<ellipse cx="1030.5" cy="233.7" rx="4.9" ry="2.6" transform="rotate(10.5 1030.5 233.1)" fill="#2c3f58"/>
<ellipse cx="1030.5" cy="232.7" rx="4.4" ry="2.05" transform="rotate(10.5 1030.5 233.1)" fill="#91a7c2"/>
<ellipse cx="1041.7" cy="235.8" rx="4.9" ry="2.6" transform="rotate(10.5 1041.7 235.2)" fill="#2c3f58"/>
<ellipse cx="1041.7" cy="234.8" rx="4.4" ry="2.05" transform="rotate(10.5 1041.7 235.2)" fill="#91a7c2"/>
<ellipse cx="1052.9" cy="237.9" rx="4.9" ry="2.6" transform="rotate(10.5 1052.9 237.3)" fill="#2c3f58"/>
<ellipse cx="1052.9" cy="236.9" rx="4.4" ry="2.05" transform="rotate(10.5 1052.9 237.3)" fill="#91a7c2"/>
<ellipse cx="1064.1" cy="239.9" rx="4.9" ry="2.6" transform="rotate(10.5 1064.1 239.3)" fill="#2c3f58"/>
<ellipse cx="1064.1" cy="239.0" rx="4.4" ry="2.05" transform="rotate(10.5 1064.1 239.3)" fill="#91a7c2"/>
<ellipse cx="1075.3" cy="242.0" rx="4.9" ry="2.6" transform="rotate(10.5 1075.3 241.4)" fill="#2c3f58"/>
<ellipse cx="1075.3" cy="241.1" rx="4.4" ry="2.05" transform="rotate(10.5 1075.3 241.4)" fill="#91a7c2"/>
<ellipse cx="790.6" cy="193.9" rx="4.9" ry="2.6" transform="rotate(10.5 790.6 193.3)" fill="#2c3f58"/>
<ellipse cx="790.6" cy="193.0" rx="4.4" ry="2.05" transform="rotate(10.5 790.6 193.3)" fill="#91a7c2"/>
<ellipse cx="801.8" cy="196.0" rx="4.9" ry="2.6" transform="rotate(10.5 801.8 195.4)" fill="#2c3f58"/>
<ellipse cx="801.8" cy="195.0" rx="4.4" ry="2.05" transform="rotate(10.5 801.8 195.4)" fill="#91a7c2"/>
<ellipse cx="813.0" cy="198.1" rx="4.9" ry="2.6" transform="rotate(10.5 813.0 197.5)" fill="#2c3f58"/>
<ellipse cx="813.0" cy="197.1" rx="4.4" ry="2.05" transform="rotate(10.5 813.0 197.5)" fill="#91a7c2"/>
<ellipse cx="824.2" cy="200.2" rx="4.9" ry="2.6" transform="rotate(10.5 824.2 199.6)" fill="#2c3f58"/>
<ellipse cx="824.2" cy="199.2" rx="4.4" ry="2.05" transform="rotate(10.5 824.2 199.6)" fill="#91a7c2"/>
<ellipse cx="835.3" cy="202.2" rx="4.9" ry="2.6" transform="rotate(10.5 835.3 201.6)" fill="#683042"/>
<ellipse cx="835.3" cy="201.3" rx="4.4" ry="2.05" transform="rotate(10.5 835.3 201.6)" fill="#cd4c50"/>
<ellipse cx="846.5" cy="204.3" rx="4.9" ry="2.6" transform="rotate(10.5 846.5 203.7)" fill="#2c3f58"/>
<ellipse cx="846.5" cy="203.4" rx="4.4" ry="2.05" transform="rotate(10.5 846.5 203.7)" fill="#91a7c2"/>
<ellipse cx="857.7" cy="206.4" rx="4.9" ry="2.6" transform="rotate(10.5 857.7 205.8)" fill="#683042"/>
<ellipse cx="857.7" cy="205.5" rx="4.4" ry="2.05" transform="rotate(10.5 857.7 205.8)" fill="#cd4c50"/>
<ellipse cx="868.9" cy="208.5" rx="4.9" ry="2.6" transform="rotate(10.5 868.9 207.9)" fill="#2c3f58"/>
<ellipse cx="868.9" cy="207.5" rx="4.4" ry="2.05" transform="rotate(10.5 868.9 207.9)" fill="#91a7c2"/>
<ellipse cx="880.1" cy="210.6" rx="4.9" ry="2.6" transform="rotate(10.5 880.1 210.0)" fill="#683042"/>
<ellipse cx="880.1" cy="209.6" rx="4.4" ry="2.05" transform="rotate(10.5 880.1 210.0)" fill="#cd4c50"/>
<ellipse cx="891.3" cy="212.7" rx="4.9" ry="2.6" transform="rotate(10.5 891.3 212.1)" fill="#2c3f58"/>
<ellipse cx="891.3" cy="211.7" rx="4.4" ry="2.05" transform="rotate(10.5 891.3 212.1)" fill="#91a7c2"/>
<ellipse cx="902.5" cy="214.7" rx="4.9" ry="2.6" transform="rotate(10.5 902.5 214.1)" fill="#683042"/>
<ellipse cx="902.5" cy="213.8" rx="4.4" ry="2.05" transform="rotate(10.5 902.5 214.1)" fill="#cd4c50"/>
<ellipse cx="913.7" cy="216.8" rx="4.9" ry="2.6" transform="rotate(10.5 913.7 216.2)" fill="#2c3f58"/>
<ellipse cx="913.7" cy="215.9" rx="4.4" ry="2.05" transform="rotate(10.5 913.7 216.2)" fill="#91a7c2"/>
<ellipse cx="924.9" cy="218.9" rx="4.9" ry="2.6" transform="rotate(10.5 924.9 218.3)" fill="#2c3f58"/>
<ellipse cx="924.9" cy="218.0" rx="4.4" ry="2.05" transform="rotate(10.5 924.9 218.3)" fill="#91a7c2"/>
<ellipse cx="936.0" cy="221.0" rx="4.9" ry="2.6" transform="rotate(10.5 936.0 220.4)" fill="#2c3f58"/>
<ellipse cx="936.0" cy="220.0" rx="4.4" ry="2.05" transform="rotate(10.5 936.0 220.4)" fill="#91a7c2"/>
<ellipse cx="947.2" cy="223.1" rx="4.9" ry="2.6" transform="rotate(10.5 947.2 222.5)" fill="#2c3f58"/>
<ellipse cx="947.2" cy="222.1" rx="4.4" ry="2.05" transform="rotate(10.5 947.2 222.5)" fill="#91a7c2"/>
<ellipse cx="958.4" cy="225.2" rx="4.9" ry="2.6" transform="rotate(10.5 958.4 224.6)" fill="#2c3f58"/>
<ellipse cx="958.4" cy="224.2" rx="4.4" ry="2.05" transform="rotate(10.5 958.4 224.6)" fill="#91a7c2"/>
<ellipse cx="969.6" cy="227.3" rx="4.9" ry="2.6" transform="rotate(10.5 969.6 226.7)" fill="#2c3f58"/>
<ellipse cx="969.6" cy="226.3" rx="4.4" ry="2.05" transform="rotate(10.5 969.6 226.7)" fill="#91a7c2"/>
<ellipse cx="980.8" cy="229.3" rx="4.9" ry="2.6" transform="rotate(10.5 980.8 228.7)" fill="#2c3f58"/>
<ellipse cx="980.8" cy="228.4" rx="4.4" ry="2.05" transform="rotate(10.5 980.8 228.7)" fill="#91a7c2"/>
<ellipse cx="992.0" cy="231.4" rx="4.9" ry="2.6" transform="rotate(10.5 992.0 230.8)" fill="#2c3f58"/>
<ellipse cx="992.0" cy="230.5" rx="4.4" ry="2.05" transform="rotate(10.5 992.0 230.8)" fill="#91a7c2"/>
<ellipse cx="1003.2" cy="233.5" rx="4.9" ry="2.6" transform="rotate(10.5 1003.2 232.9)" fill="#683042"/>
<ellipse cx="1003.2" cy="232.6" rx="4.4" ry="2.05" transform="rotate(10.5 1003.2 232.9)" fill="#cd4c50"/>
<ellipse cx="1014.4" cy="235.6" rx="4.9" ry="2.6" transform="rotate(10.5 1014.4 235.0)" fill="#2c3f58"/>
<ellipse cx="1014.4" cy="234.6" rx="4.4" ry="2.05" transform="rotate(10.5 1014.4 235.0)" fill="#91a7c2"/>
<ellipse cx="1025.6" cy="237.7" rx="4.9" ry="2.6" transform="rotate(10.5 1025.6 237.1)" fill="#683042"/>
<ellipse cx="1025.6" cy="236.7" rx="4.4" ry="2.05" transform="rotate(10.5 1025.6 237.1)" fill="#cd4c50"/>
<ellipse cx="1036.7" cy="239.8" rx="4.9" ry="2.6" transform="rotate(10.5 1036.7 239.2)" fill="#683042"/>
<ellipse cx="1036.7" cy="238.8" rx="4.4" ry="2.05" transform="rotate(10.5 1036.7 239.2)" fill="#cd4c50"/>
<ellipse cx="1047.9" cy="241.8" rx="4.9" ry="2.6" transform="rotate(10.5 1047.9 241.2)" fill="#2c3f58"/>
<ellipse cx="1047.9" cy="240.9" rx="4.4" ry="2.05" transform="rotate(10.5 1047.9 241.2)" fill="#91a7c2"/>
<ellipse cx="1059.1" cy="243.9" rx="4.9" ry="2.6" transform="rotate(10.5 1059.1 243.3)" fill="#683042"/>
<ellipse cx="1059.1" cy="243.0" rx="4.4" ry="2.05" transform="rotate(10.5 1059.1 243.3)" fill="#cd4c50"/>
<ellipse cx="1070.3" cy="246.0" rx="4.9" ry="2.6" transform="rotate(10.5 1070.3 245.4)" fill="#2c3f58"/>
<ellipse cx="1070.3" cy="245.1" rx="4.4" ry="2.05" transform="rotate(10.5 1070.3 245.4)" fill="#91a7c2"/>
<ellipse cx="785.6" cy="197.9" rx="4.9" ry="2.6" transform="rotate(10.5 785.6 197.3)" fill="#2c3f58"/>
<ellipse cx="785.6" cy="196.9" rx="4.4" ry="2.05" transform="rotate(10.5 785.6 197.3)" fill="#91a7c2"/>
<ellipse cx="796.8" cy="200.0" rx="4.9" ry="2.6" transform="rotate(10.5 796.8 199.4)" fill="#2c3f58"/>
<ellipse cx="796.8" cy="199.0" rx="4.4" ry="2.05" transform="rotate(10.5 796.8 199.4)" fill="#91a7c2"/>
<ellipse cx="808.0" cy="202.1" rx="4.9" ry="2.6" transform="rotate(10.5 808.0 201.5)" fill="#2c3f58"/>
<ellipse cx="808.0" cy="201.1" rx="4.4" ry="2.05" transform="rotate(10.5 808.0 201.5)" fill="#91a7c2"/>
<ellipse cx="819.2" cy="204.1" rx="4.9" ry="2.6" transform="rotate(10.5 819.2 203.5)" fill="#2c3f58"/>
<ellipse cx="819.2" cy="203.2" rx="4.4" ry="2.05" transform="rotate(10.5 819.2 203.5)" fill="#91a7c2"/>
<ellipse cx="830.4" cy="206.2" rx="4.9" ry="2.6" transform="rotate(10.5 830.4 205.6)" fill="#2c3f58"/>
<ellipse cx="830.4" cy="205.3" rx="4.4" ry="2.05" transform="rotate(10.5 830.4 205.6)" fill="#91a7c2"/>
<ellipse cx="841.6" cy="208.3" rx="4.9" ry="2.6" transform="rotate(10.5 841.6 207.7)" fill="#2c3f58"/>
<ellipse cx="841.6" cy="207.4" rx="4.4" ry="2.05" transform="rotate(10.5 841.6 207.7)" fill="#91a7c2"/>
<ellipse cx="852.8" cy="210.4" rx="4.9" ry="2.6" transform="rotate(10.5 852.8 209.8)" fill="#683042"/>
<ellipse cx="852.8" cy="209.4" rx="4.4" ry="2.05" transform="rotate(10.5 852.8 209.8)" fill="#cd4c50"/>
<ellipse cx="864.0" cy="212.5" rx="4.9" ry="2.6" transform="rotate(10.5 864.0 211.9)" fill="#2c3f58"/>
<ellipse cx="864.0" cy="211.5" rx="4.4" ry="2.05" transform="rotate(10.5 864.0 211.9)" fill="#91a7c2"/>
<ellipse cx="875.2" cy="214.6" rx="4.9" ry="2.6" transform="rotate(10.5 875.2 214.0)" fill="#683042"/>
<ellipse cx="875.2" cy="213.6" rx="4.4" ry="2.05" transform="rotate(10.5 875.2 214.0)" fill="#cd4c50"/>
<ellipse cx="886.3" cy="216.6" rx="4.9" ry="2.6" transform="rotate(10.5 886.3 216.0)" fill="#683042"/>
<ellipse cx="886.3" cy="215.7" rx="4.4" ry="2.05" transform="rotate(10.5 886.3 216.0)" fill="#cd4c50"/>
<ellipse cx="897.5" cy="218.7" rx="4.9" ry="2.6" transform="rotate(10.5 897.5 218.1)" fill="#2c3f58"/>
<ellipse cx="897.5" cy="217.8" rx="4.4" ry="2.05" transform="rotate(10.5 897.5 218.1)" fill="#91a7c2"/>
<ellipse cx="908.7" cy="220.8" rx="4.9" ry="2.6" transform="rotate(10.5 908.7 220.2)" fill="#2c3f58"/>
<ellipse cx="908.7" cy="219.9" rx="4.4" ry="2.05" transform="rotate(10.5 908.7 220.2)" fill="#91a7c2"/>
<ellipse cx="919.9" cy="222.9" rx="4.9" ry="2.6" transform="rotate(10.5 919.9 222.3)" fill="#2c3f58"/>
<ellipse cx="919.9" cy="221.9" rx="4.4" ry="2.05" transform="rotate(10.5 919.9 222.3)" fill="#91a7c2"/>
<ellipse cx="931.1" cy="225.0" rx="4.9" ry="2.6" transform="rotate(10.5 931.1 224.4)" fill="#2c3f58"/>
<ellipse cx="931.1" cy="224.0" rx="4.4" ry="2.05" transform="rotate(10.5 931.1 224.4)" fill="#91a7c2"/>
<ellipse cx="942.3" cy="227.1" rx="4.9" ry="2.6" transform="rotate(10.5 942.3 226.5)" fill="#2c3f58"/>
<ellipse cx="942.3" cy="226.1" rx="4.4" ry="2.05" transform="rotate(10.5 942.3 226.5)" fill="#91a7c2"/>
<ellipse cx="953.5" cy="229.2" rx="4.9" ry="2.6" transform="rotate(10.5 953.5 228.6)" fill="#2c3f58"/>
<ellipse cx="953.5" cy="228.2" rx="4.4" ry="2.05" transform="rotate(10.5 953.5 228.6)" fill="#91a7c2"/>
<ellipse cx="964.7" cy="231.2" rx="4.9" ry="2.6" transform="rotate(10.5 964.7 230.6)" fill="#2c3f58"/>
<ellipse cx="964.7" cy="230.3" rx="4.4" ry="2.05" transform="rotate(10.5 964.7 230.6)" fill="#91a7c2"/>
<ellipse cx="975.9" cy="233.3" rx="4.9" ry="2.6" transform="rotate(10.5 975.9 232.7)" fill="#2c3f58"/>
<ellipse cx="975.9" cy="232.4" rx="4.4" ry="2.05" transform="rotate(10.5 975.9 232.7)" fill="#91a7c2"/>
<ellipse cx="987.0" cy="235.4" rx="4.9" ry="2.6" transform="rotate(10.5 987.0 234.8)" fill="#2c3f58"/>
<ellipse cx="987.0" cy="234.5" rx="4.4" ry="2.05" transform="rotate(10.5 987.0 234.8)" fill="#91a7c2"/>
<ellipse cx="998.2" cy="237.5" rx="4.9" ry="2.6" transform="rotate(10.5 998.2 236.9)" fill="#2c3f58"/>
<ellipse cx="998.2" cy="236.5" rx="4.4" ry="2.05" transform="rotate(10.5 998.2 236.9)" fill="#91a7c2"/>
<ellipse cx="1009.4" cy="239.6" rx="4.9" ry="2.6" transform="rotate(10.5 1009.4 239.0)" fill="#2c3f58"/>
<ellipse cx="1009.4" cy="238.6" rx="4.4" ry="2.05" transform="rotate(10.5 1009.4 239.0)" fill="#91a7c2"/>
<ellipse cx="1020.6" cy="241.7" rx="4.9" ry="2.6" transform="rotate(10.5 1020.6 241.1)" fill="#2c3f58"/>
<ellipse cx="1020.6" cy="240.7" rx="4.4" ry="2.05" transform="rotate(10.5 1020.6 241.1)" fill="#91a7c2"/>
<ellipse cx="1031.8" cy="243.7" rx="4.9" ry="2.6" transform="rotate(10.5 1031.8 243.1)" fill="#2c3f58"/>
<ellipse cx="1031.8" cy="242.8" rx="4.4" ry="2.05" transform="rotate(10.5 1031.8 243.1)" fill="#91a7c2"/>
<ellipse cx="1043.0" cy="245.8" rx="4.9" ry="2.6" transform="rotate(10.5 1043.0 245.2)" fill="#2c3f58"/>
<ellipse cx="1043.0" cy="244.9" rx="4.4" ry="2.05" transform="rotate(10.5 1043.0 245.2)" fill="#91a7c2"/>
<ellipse cx="1054.2" cy="247.9" rx="4.9" ry="2.6" transform="rotate(10.5 1054.2 247.3)" fill="#2c3f58"/>
<ellipse cx="1054.2" cy="247.0" rx="4.4" ry="2.05" transform="rotate(10.5 1054.2 247.3)" fill="#91a7c2"/>
<ellipse cx="1065.4" cy="250.0" rx="4.9" ry="2.6" transform="rotate(10.5 1065.4 249.4)" fill="#2c3f58"/>
<ellipse cx="1065.4" cy="249.0" rx="4.4" ry="2.05" transform="rotate(10.5 1065.4 249.4)" fill="#91a7c2"/>
<ellipse cx="780.7" cy="201.9" rx="4.9" ry="2.6" transform="rotate(10.5 780.7 201.3)" fill="#2c3f58"/>
<ellipse cx="780.7" cy="200.9" rx="4.4" ry="2.05" transform="rotate(10.5 780.7 201.3)" fill="#91a7c2"/>
<ellipse cx="791.9" cy="204.0" rx="4.9" ry="2.6" transform="rotate(10.5 791.9 203.4)" fill="#2c3f58"/>
<ellipse cx="791.9" cy="203.0" rx="4.4" ry="2.05" transform="rotate(10.5 791.9 203.4)" fill="#91a7c2"/>
<ellipse cx="803.1" cy="206.0" rx="4.9" ry="2.6" transform="rotate(10.5 803.1 205.4)" fill="#2c3f58"/>
<ellipse cx="803.1" cy="205.1" rx="4.4" ry="2.05" transform="rotate(10.5 803.1 205.4)" fill="#91a7c2"/>
<ellipse cx="814.3" cy="208.1" rx="4.9" ry="2.6" transform="rotate(10.5 814.3 207.5)" fill="#2c3f58"/>
<ellipse cx="814.3" cy="207.2" rx="4.4" ry="2.05" transform="rotate(10.5 814.3 207.5)" fill="#91a7c2"/>
<ellipse cx="825.5" cy="210.2" rx="4.9" ry="2.6" transform="rotate(10.5 825.5 209.6)" fill="#2c3f58"/>
<ellipse cx="825.5" cy="209.3" rx="4.4" ry="2.05" transform="rotate(10.5 825.5 209.6)" fill="#91a7c2"/>
<ellipse cx="836.6" cy="212.3" rx="4.9" ry="2.6" transform="rotate(10.5 836.6 211.7)" fill="#683042"/>
<ellipse cx="836.6" cy="211.3" rx="4.4" ry="2.05" transform="rotate(10.5 836.6 211.7)" fill="#cd4c50"/>
<ellipse cx="847.8" cy="214.4" rx="4.9" ry="2.6" transform="rotate(10.5 847.8 213.8)" fill="#683042"/>
<ellipse cx="847.8" cy="213.4" rx="4.4" ry="2.05" transform="rotate(10.5 847.8 213.8)" fill="#cd4c50"/>
<ellipse cx="859.0" cy="216.5" rx="4.9" ry="2.6" transform="rotate(10.5 859.0 215.9)" fill="#2c3f58"/>
<ellipse cx="859.0" cy="215.5" rx="4.4" ry="2.05" transform="rotate(10.5 859.0 215.9)" fill="#91a7c2"/>
<ellipse cx="870.2" cy="218.5" rx="4.9" ry="2.6" transform="rotate(10.5 870.2 217.9)" fill="#683042"/>
<ellipse cx="870.2" cy="217.6" rx="4.4" ry="2.05" transform="rotate(10.5 870.2 217.9)" fill="#cd4c50"/>
<ellipse cx="881.4" cy="220.6" rx="4.9" ry="2.6" transform="rotate(10.5 881.4 220.0)" fill="#683042"/>
<ellipse cx="881.4" cy="219.7" rx="4.4" ry="2.05" transform="rotate(10.5 881.4 220.0)" fill="#cd4c50"/>
<ellipse cx="892.6" cy="222.7" rx="4.9" ry="2.6" transform="rotate(10.5 892.6 222.1)" fill="#683042"/>
<ellipse cx="892.6" cy="221.8" rx="4.4" ry="2.05" transform="rotate(10.5 892.6 222.1)" fill="#cd4c50"/>
<ellipse cx="903.8" cy="224.8" rx="4.9" ry="2.6" transform="rotate(10.5 903.8 224.2)" fill="#2c3f58"/>
<ellipse cx="903.8" cy="223.9" rx="4.4" ry="2.05" transform="rotate(10.5 903.8 224.2)" fill="#91a7c2"/>
<ellipse cx="915.0" cy="226.9" rx="4.9" ry="2.6" transform="rotate(10.5 915.0 226.3)" fill="#2c3f58"/>
<ellipse cx="915.0" cy="225.9" rx="4.4" ry="2.05" transform="rotate(10.5 915.0 226.3)" fill="#91a7c2"/>
<ellipse cx="926.2" cy="229.0" rx="4.9" ry="2.6" transform="rotate(10.5 926.2 228.4)" fill="#2c3f58"/>
<ellipse cx="926.2" cy="228.0" rx="4.4" ry="2.05" transform="rotate(10.5 926.2 228.4)" fill="#91a7c2"/>
<ellipse cx="937.3" cy="231.1" rx="4.9" ry="2.6" transform="rotate(10.5 937.3 230.5)" fill="#683042"/>
<ellipse cx="937.3" cy="230.1" rx="4.4" ry="2.05" transform="rotate(10.5 937.3 230.5)" fill="#cd4c50"/>
<ellipse cx="948.5" cy="233.1" rx="4.9" ry="2.6" transform="rotate(10.5 948.5 232.5)" fill="#2c3f58"/>
<ellipse cx="948.5" cy="232.2" rx="4.4" ry="2.05" transform="rotate(10.5 948.5 232.5)" fill="#91a7c2"/>
<ellipse cx="959.7" cy="235.2" rx="4.9" ry="2.6" transform="rotate(10.5 959.7 234.6)" fill="#2c3f58"/>
<ellipse cx="959.7" cy="234.3" rx="4.4" ry="2.05" transform="rotate(10.5 959.7 234.6)" fill="#91a7c2"/>
<ellipse cx="970.9" cy="237.3" rx="4.9" ry="2.6" transform="rotate(10.5 970.9 236.7)" fill="#683042"/>
<ellipse cx="970.9" cy="236.4" rx="4.4" ry="2.05" transform="rotate(10.5 970.9 236.7)" fill="#cd4c50"/>
<ellipse cx="982.1" cy="239.4" rx="4.9" ry="2.6" transform="rotate(10.5 982.1 238.8)" fill="#2c3f58"/>
<ellipse cx="982.1" cy="238.4" rx="4.4" ry="2.05" transform="rotate(10.5 982.1 238.8)" fill="#91a7c2"/>
<ellipse cx="993.3" cy="241.5" rx="4.9" ry="2.6" transform="rotate(10.5 993.3 240.9)" fill="#2c3f58"/>
<ellipse cx="993.3" cy="240.5" rx="4.4" ry="2.05" transform="rotate(10.5 993.3 240.9)" fill="#91a7c2"/>
<ellipse cx="1004.5" cy="243.6" rx="4.9" ry="2.6" transform="rotate(10.5 1004.5 243.0)" fill="#683042"/>
<ellipse cx="1004.5" cy="242.6" rx="4.4" ry="2.05" transform="rotate(10.5 1004.5 243.0)" fill="#cd4c50"/>
<ellipse cx="1015.7" cy="245.6" rx="4.9" ry="2.6" transform="rotate(10.5 1015.7 245.0)" fill="#2c3f58"/>
<ellipse cx="1015.7" cy="244.7" rx="4.4" ry="2.05" transform="rotate(10.5 1015.7 245.0)" fill="#91a7c2"/>
<ellipse cx="1026.9" cy="247.7" rx="4.9" ry="2.6" transform="rotate(10.5 1026.9 247.1)" fill="#683042"/>
<ellipse cx="1026.9" cy="246.8" rx="4.4" ry="2.05" transform="rotate(10.5 1026.9 247.1)" fill="#cd4c50"/>
<ellipse cx="1038.0" cy="249.8" rx="4.9" ry="2.6" transform="rotate(10.5 1038.0 249.2)" fill="#2c3f58"/>
<ellipse cx="1038.0" cy="248.9" rx="4.4" ry="2.05" transform="rotate(10.5 1038.0 249.2)" fill="#91a7c2"/>
<ellipse cx="1049.2" cy="251.9" rx="4.9" ry="2.6" transform="rotate(10.5 1049.2 251.3)" fill="#2c3f58"/>
<ellipse cx="1049.2" cy="250.9" rx="4.4" ry="2.05" transform="rotate(10.5 1049.2 251.3)" fill="#91a7c2"/>
<ellipse cx="1060.4" cy="254.0" rx="4.9" ry="2.6" transform="rotate(10.5 1060.4 253.4)" fill="#2c3f58"/>
<ellipse cx="1060.4" cy="253.0" rx="4.4" ry="2.05" transform="rotate(10.5 1060.4 253.4)" fill="#91a7c2"/>
<ellipse cx="775.8" cy="205.9" rx="4.9" ry="2.6" transform="rotate(10.5 775.8 205.3)" fill="#2c3f58"/>
<ellipse cx="775.8" cy="204.9" rx="4.4" ry="2.05" transform="rotate(10.5 775.8 205.3)" fill="#91a7c2"/>
<ellipse cx="786.9" cy="207.9" rx="4.9" ry="2.6" transform="rotate(10.5 786.9 207.3)" fill="#2c3f58"/>
<ellipse cx="786.9" cy="207.0" rx="4.4" ry="2.05" transform="rotate(10.5 786.9 207.3)" fill="#91a7c2"/>
<ellipse cx="798.1" cy="210.0" rx="4.9" ry="2.6" transform="rotate(10.5 798.1 209.4)" fill="#2c3f58"/>
<ellipse cx="798.1" cy="209.1" rx="4.4" ry="2.05" transform="rotate(10.5 798.1 209.4)" fill="#91a7c2"/>
<ellipse cx="809.3" cy="212.1" rx="4.9" ry="2.6" transform="rotate(10.5 809.3 211.5)" fill="#2c3f58"/>
<ellipse cx="809.3" cy="211.2" rx="4.4" ry="2.05" transform="rotate(10.5 809.3 211.5)" fill="#91a7c2"/>
<ellipse cx="820.5" cy="214.2" rx="4.9" ry="2.6" transform="rotate(10.5 820.5 213.6)" fill="#683042"/>
<ellipse cx="820.5" cy="213.2" rx="4.4" ry="2.05" transform="rotate(10.5 820.5 213.6)" fill="#cd4c50"/>
<ellipse cx="831.7" cy="216.3" rx="4.9" ry="2.6" transform="rotate(10.5 831.7 215.7)" fill="#683042"/>
<ellipse cx="831.7" cy="215.3" rx="4.4" ry="2.05" transform="rotate(10.5 831.7 215.7)" fill="#cd4c50"/>
<ellipse cx="842.9" cy="218.4" rx="4.9" ry="2.6" transform="rotate(10.5 842.9 217.8)" fill="#2c3f58"/>
<ellipse cx="842.9" cy="217.4" rx="4.4" ry="2.05" transform="rotate(10.5 842.9 217.8)" fill="#91a7c2"/>
<ellipse cx="854.1" cy="220.4" rx="4.9" ry="2.6" transform="rotate(10.5 854.1 219.8)" fill="#683042"/>
<ellipse cx="854.1" cy="219.5" rx="4.4" ry="2.05" transform="rotate(10.5 854.1 219.8)" fill="#cd4c50"/>
<ellipse cx="865.3" cy="222.5" rx="4.9" ry="2.6" transform="rotate(10.5 865.3 221.9)" fill="#2c3f58"/>
<ellipse cx="865.3" cy="221.6" rx="4.4" ry="2.05" transform="rotate(10.5 865.3 221.9)" fill="#91a7c2"/>
<ellipse cx="876.4" cy="224.6" rx="4.9" ry="2.6" transform="rotate(10.5 876.4 224.0)" fill="#2c3f58"/>
<ellipse cx="876.4" cy="223.7" rx="4.4" ry="2.05" transform="rotate(10.5 876.4 224.0)" fill="#91a7c2"/>
<ellipse cx="887.6" cy="226.7" rx="4.9" ry="2.6" transform="rotate(10.5 887.6 226.1)" fill="#683042"/>
<ellipse cx="887.6" cy="225.8" rx="4.4" ry="2.05" transform="rotate(10.5 887.6 226.1)" fill="#cd4c50"/>
<ellipse cx="898.8" cy="228.8" rx="4.9" ry="2.6" transform="rotate(10.5 898.8 228.2)" fill="#683042"/>
<ellipse cx="898.8" cy="227.8" rx="4.4" ry="2.05" transform="rotate(10.5 898.8 228.2)" fill="#cd4c50"/>
<ellipse cx="910.0" cy="230.9" rx="4.9" ry="2.6" transform="rotate(10.5 910.0 230.3)" fill="#2c3f58"/>
<ellipse cx="910.0" cy="229.9" rx="4.4" ry="2.05" transform="rotate(10.5 910.0 230.3)" fill="#91a7c2"/>
<ellipse cx="921.2" cy="233.0" rx="4.9" ry="2.6" transform="rotate(10.5 921.2 232.4)" fill="#2c3f58"/>
<ellipse cx="921.2" cy="232.0" rx="4.4" ry="2.05" transform="rotate(10.5 921.2 232.4)" fill="#91a7c2"/>
<ellipse cx="932.4" cy="235.0" rx="4.9" ry="2.6" transform="rotate(10.5 932.4 234.4)" fill="#683042"/>
<ellipse cx="932.4" cy="234.1" rx="4.4" ry="2.05" transform="rotate(10.5 932.4 234.4)" fill="#cd4c50"/>
<ellipse cx="943.6" cy="237.1" rx="4.9" ry="2.6" transform="rotate(10.5 943.6 236.5)" fill="#2c3f58"/>
<ellipse cx="943.6" cy="236.2" rx="4.4" ry="2.05" transform="rotate(10.5 943.6 236.5)" fill="#91a7c2"/>
<ellipse cx="954.8" cy="239.2" rx="4.9" ry="2.6" transform="rotate(10.5 954.8 238.6)" fill="#2c3f58"/>
<ellipse cx="954.8" cy="238.3" rx="4.4" ry="2.05" transform="rotate(10.5 954.8 238.6)" fill="#91a7c2"/>
<ellipse cx="966.0" cy="241.3" rx="4.9" ry="2.6" transform="rotate(10.5 966.0 240.7)" fill="#2c3f58"/>
<ellipse cx="966.0" cy="240.3" rx="4.4" ry="2.05" transform="rotate(10.5 966.0 240.7)" fill="#91a7c2"/>
<ellipse cx="977.1" cy="243.4" rx="4.9" ry="2.6" transform="rotate(10.5 977.1 242.8)" fill="#683042"/>
<ellipse cx="977.1" cy="242.4" rx="4.4" ry="2.05" transform="rotate(10.5 977.1 242.8)" fill="#cd4c50"/>
<ellipse cx="988.3" cy="245.5" rx="4.9" ry="2.6" transform="rotate(10.5 988.3 244.9)" fill="#683042"/>
<ellipse cx="988.3" cy="244.5" rx="4.4" ry="2.05" transform="rotate(10.5 988.3 244.9)" fill="#cd4c50"/>
<ellipse cx="999.5" cy="247.5" rx="4.9" ry="2.6" transform="rotate(10.5 999.5 246.9)" fill="#683042"/>
<ellipse cx="999.5" cy="246.6" rx="4.4" ry="2.05" transform="rotate(10.5 999.5 246.9)" fill="#cd4c50"/>
<ellipse cx="1010.7" cy="249.6" rx="4.9" ry="2.6" transform="rotate(10.5 1010.7 249.0)" fill="#2c3f58"/>
<ellipse cx="1010.7" cy="248.7" rx="4.4" ry="2.05" transform="rotate(10.5 1010.7 249.0)" fill="#91a7c2"/>
<ellipse cx="1021.9" cy="251.7" rx="4.9" ry="2.6" transform="rotate(10.5 1021.9 251.1)" fill="#683042"/>
<ellipse cx="1021.9" cy="250.8" rx="4.4" ry="2.05" transform="rotate(10.5 1021.9 251.1)" fill="#cd4c50"/>
<ellipse cx="1033.1" cy="253.8" rx="4.9" ry="2.6" transform="rotate(10.5 1033.1 253.2)" fill="#683042"/>
<ellipse cx="1033.1" cy="252.8" rx="4.4" ry="2.05" transform="rotate(10.5 1033.1 253.2)" fill="#cd4c50"/>
<ellipse cx="1044.3" cy="255.9" rx="4.9" ry="2.6" transform="rotate(10.5 1044.3 255.3)" fill="#2c3f58"/>
<ellipse cx="1044.3" cy="254.9" rx="4.4" ry="2.05" transform="rotate(10.5 1044.3 255.3)" fill="#91a7c2"/>
<ellipse cx="1055.5" cy="258.0" rx="4.9" ry="2.6" transform="rotate(10.5 1055.5 257.4)" fill="#2c3f58"/>
<ellipse cx="1055.5" cy="257.0" rx="4.4" ry="2.05" transform="rotate(10.5 1055.5 257.4)" fill="#91a7c2"/>
<ellipse cx="770.8" cy="209.8" rx="4.9" ry="2.6" transform="rotate(10.5 770.8 209.2)" fill="#2c3f58"/>
<ellipse cx="770.8" cy="208.9" rx="4.4" ry="2.05" transform="rotate(10.5 770.8 209.2)" fill="#91a7c2"/>
<ellipse cx="782.0" cy="211.9" rx="4.9" ry="2.6" transform="rotate(10.5 782.0 211.3)" fill="#2c3f58"/>
<ellipse cx="782.0" cy="211.0" rx="4.4" ry="2.05" transform="rotate(10.5 782.0 211.3)" fill="#91a7c2"/>
<ellipse cx="793.2" cy="214.0" rx="4.9" ry="2.6" transform="rotate(10.5 793.2 213.4)" fill="#2c3f58"/>
<ellipse cx="793.2" cy="213.1" rx="4.4" ry="2.05" transform="rotate(10.5 793.2 213.4)" fill="#91a7c2"/>
<ellipse cx="804.4" cy="216.1" rx="4.9" ry="2.6" transform="rotate(10.5 804.4 215.5)" fill="#2c3f58"/>
<ellipse cx="804.4" cy="215.1" rx="4.4" ry="2.05" transform="rotate(10.5 804.4 215.5)" fill="#91a7c2"/>
<ellipse cx="815.6" cy="218.2" rx="4.9" ry="2.6" transform="rotate(10.5 815.6 217.6)" fill="#2c3f58"/>
<ellipse cx="815.6" cy="217.2" rx="4.4" ry="2.05" transform="rotate(10.5 815.6 217.6)" fill="#91a7c2"/>
<ellipse cx="826.7" cy="220.3" rx="4.9" ry="2.6" transform="rotate(10.5 826.7 219.7)" fill="#2c3f58"/>
<ellipse cx="826.7" cy="219.3" rx="4.4" ry="2.05" transform="rotate(10.5 826.7 219.7)" fill="#91a7c2"/>
<ellipse cx="837.9" cy="222.3" rx="4.9" ry="2.6" transform="rotate(10.5 837.9 221.7)" fill="#683042"/>
<ellipse cx="837.9" cy="221.4" rx="4.4" ry="2.05" transform="rotate(10.5 837.9 221.7)" fill="#cd4c50"/>
<ellipse cx="849.1" cy="224.4" rx="4.9" ry="2.6" transform="rotate(10.5 849.1 223.8)" fill="#683042"/>
<ellipse cx="849.1" cy="223.5" rx="4.4" ry="2.05" transform="rotate(10.5 849.1 223.8)" fill="#cd4c50"/>
<ellipse cx="860.3" cy="226.5" rx="4.9" ry="2.6" transform="rotate(10.5 860.3 225.9)" fill="#2c3f58"/>
<ellipse cx="860.3" cy="225.6" rx="4.4" ry="2.05" transform="rotate(10.5 860.3 225.9)" fill="#91a7c2"/>
<ellipse cx="871.5" cy="228.6" rx="4.9" ry="2.6" transform="rotate(10.5 871.5 228.0)" fill="#2c3f58"/>
<ellipse cx="871.5" cy="227.7" rx="4.4" ry="2.05" transform="rotate(10.5 871.5 228.0)" fill="#91a7c2"/>
<ellipse cx="882.7" cy="230.7" rx="4.9" ry="2.6" transform="rotate(10.5 882.7 230.1)" fill="#683042"/>
<ellipse cx="882.7" cy="229.7" rx="4.4" ry="2.05" transform="rotate(10.5 882.7 230.1)" fill="#cd4c50"/>
<ellipse cx="893.9" cy="232.8" rx="4.9" ry="2.6" transform="rotate(10.5 893.9 232.2)" fill="#2c3f58"/>
<ellipse cx="893.9" cy="231.8" rx="4.4" ry="2.05" transform="rotate(10.5 893.9 232.2)" fill="#91a7c2"/>
<ellipse cx="905.1" cy="234.9" rx="4.9" ry="2.6" transform="rotate(10.5 905.1 234.3)" fill="#2c3f58"/>
<ellipse cx="905.1" cy="233.9" rx="4.4" ry="2.05" transform="rotate(10.5 905.1 234.3)" fill="#91a7c2"/>
<ellipse cx="916.3" cy="236.9" rx="4.9" ry="2.6" transform="rotate(10.5 916.3 236.3)" fill="#2c3f58"/>
<ellipse cx="916.3" cy="236.0" rx="4.4" ry="2.05" transform="rotate(10.5 916.3 236.3)" fill="#91a7c2"/>
<ellipse cx="927.4" cy="239.0" rx="4.9" ry="2.6" transform="rotate(10.5 927.4 238.4)" fill="#683042"/>
<ellipse cx="927.4" cy="238.1" rx="4.4" ry="2.05" transform="rotate(10.5 927.4 238.4)" fill="#cd4c50"/>
<ellipse cx="938.6" cy="241.1" rx="4.9" ry="2.6" transform="rotate(10.5 938.6 240.5)" fill="#2c3f58"/>
<ellipse cx="938.6" cy="240.2" rx="4.4" ry="2.05" transform="rotate(10.5 938.6 240.5)" fill="#91a7c2"/>
<ellipse cx="949.8" cy="243.2" rx="4.9" ry="2.6" transform="rotate(10.5 949.8 242.6)" fill="#683042"/>
<ellipse cx="949.8" cy="242.2" rx="4.4" ry="2.05" transform="rotate(10.5 949.8 242.6)" fill="#cd4c50"/>
<ellipse cx="961.0" cy="245.3" rx="4.9" ry="2.6" transform="rotate(10.5 961.0 244.7)" fill="#2c3f58"/>
<ellipse cx="961.0" cy="244.3" rx="4.4" ry="2.05" transform="rotate(10.5 961.0 244.7)" fill="#91a7c2"/>
<ellipse cx="972.2" cy="247.4" rx="4.9" ry="2.6" transform="rotate(10.5 972.2 246.8)" fill="#2c3f58"/>
<ellipse cx="972.2" cy="246.4" rx="4.4" ry="2.05" transform="rotate(10.5 972.2 246.8)" fill="#91a7c2"/>
<ellipse cx="983.4" cy="249.4" rx="4.9" ry="2.6" transform="rotate(10.5 983.4 248.8)" fill="#2c3f58"/>
<ellipse cx="983.4" cy="248.5" rx="4.4" ry="2.05" transform="rotate(10.5 983.4 248.8)" fill="#91a7c2"/>
<ellipse cx="994.6" cy="251.5" rx="4.9" ry="2.6" transform="rotate(10.5 994.6 250.9)" fill="#2c3f58"/>
<ellipse cx="994.6" cy="250.6" rx="4.4" ry="2.05" transform="rotate(10.5 994.6 250.9)" fill="#91a7c2"/>
<ellipse cx="1005.8" cy="253.6" rx="4.9" ry="2.6" transform="rotate(10.5 1005.8 253.0)" fill="#2c3f58"/>
<ellipse cx="1005.8" cy="252.7" rx="4.4" ry="2.05" transform="rotate(10.5 1005.8 253.0)" fill="#91a7c2"/>
<ellipse cx="1017.0" cy="255.7" rx="4.9" ry="2.6" transform="rotate(10.5 1017.0 255.1)" fill="#683042"/>
<ellipse cx="1017.0" cy="254.7" rx="4.4" ry="2.05" transform="rotate(10.5 1017.0 255.1)" fill="#cd4c50"/>
<ellipse cx="1028.1" cy="257.8" rx="4.9" ry="2.6" transform="rotate(10.5 1028.1 257.2)" fill="#683042"/>
<ellipse cx="1028.1" cy="256.8" rx="4.4" ry="2.05" transform="rotate(10.5 1028.1 257.2)" fill="#cd4c50"/>
<ellipse cx="1039.3" cy="259.9" rx="4.9" ry="2.6" transform="rotate(10.5 1039.3 259.3)" fill="#2c3f58"/>
<ellipse cx="1039.3" cy="258.9" rx="4.4" ry="2.05" transform="rotate(10.5 1039.3 259.3)" fill="#91a7c2"/>
<ellipse cx="1050.5" cy="262.0" rx="4.9" ry="2.6" transform="rotate(10.5 1050.5 261.4)" fill="#2c3f58"/>
<ellipse cx="1050.5" cy="261.0" rx="4.4" ry="2.05" transform="rotate(10.5 1050.5 261.4)" fill="#91a7c2"/>
<ellipse cx="765.9" cy="213.8" rx="4.9" ry="2.6" transform="rotate(10.5 765.9 213.2)" fill="#2c3f58"/>
<ellipse cx="765.9" cy="212.9" rx="4.4" ry="2.05" transform="rotate(10.5 765.9 213.2)" fill="#91a7c2"/>
<ellipse cx="777.0" cy="215.9" rx="4.9" ry="2.6" transform="rotate(10.5 777.0 215.3)" fill="#2c3f58"/>
<ellipse cx="777.0" cy="215.0" rx="4.4" ry="2.05" transform="rotate(10.5 777.0 215.3)" fill="#91a7c2"/>
<ellipse cx="788.2" cy="218.0" rx="4.9" ry="2.6" transform="rotate(10.5 788.2 217.4)" fill="#2c3f58"/>
<ellipse cx="788.2" cy="217.0" rx="4.4" ry="2.05" transform="rotate(10.5 788.2 217.4)" fill="#91a7c2"/>
<ellipse cx="799.4" cy="220.1" rx="4.9" ry="2.6" transform="rotate(10.5 799.4 219.5)" fill="#2c3f58"/>
<ellipse cx="799.4" cy="219.1" rx="4.4" ry="2.05" transform="rotate(10.5 799.4 219.5)" fill="#91a7c2"/>
<ellipse cx="810.6" cy="222.2" rx="4.9" ry="2.6" transform="rotate(10.5 810.6 221.6)" fill="#2c3f58"/>
<ellipse cx="810.6" cy="221.2" rx="4.4" ry="2.05" transform="rotate(10.5 810.6 221.6)" fill="#91a7c2"/>
<ellipse cx="821.8" cy="224.2" rx="4.9" ry="2.6" transform="rotate(10.5 821.8 223.6)" fill="#2c3f58"/>
<ellipse cx="821.8" cy="223.3" rx="4.4" ry="2.05" transform="rotate(10.5 821.8 223.6)" fill="#91a7c2"/>
<ellipse cx="833.0" cy="226.3" rx="4.9" ry="2.6" transform="rotate(10.5 833.0 225.7)" fill="#2c3f58"/>
<ellipse cx="833.0" cy="225.4" rx="4.4" ry="2.05" transform="rotate(10.5 833.0 225.7)" fill="#91a7c2"/>
<ellipse cx="844.2" cy="228.4" rx="4.9" ry="2.6" transform="rotate(10.5 844.2 227.8)" fill="#2c3f58"/>
<ellipse cx="844.2" cy="227.5" rx="4.4" ry="2.05" transform="rotate(10.5 844.2 227.8)" fill="#91a7c2"/>
<ellipse cx="855.4" cy="230.5" rx="4.9" ry="2.6" transform="rotate(10.5 855.4 229.9)" fill="#2c3f58"/>
<ellipse cx="855.4" cy="229.6" rx="4.4" ry="2.05" transform="rotate(10.5 855.4 229.9)" fill="#91a7c2"/>
<ellipse cx="866.6" cy="232.6" rx="4.9" ry="2.6" transform="rotate(10.5 866.6 232.0)" fill="#683042"/>
<ellipse cx="866.6" cy="231.6" rx="4.4" ry="2.05" transform="rotate(10.5 866.6 232.0)" fill="#cd4c50"/>
<ellipse cx="877.7" cy="234.7" rx="4.9" ry="2.6" transform="rotate(10.5 877.7 234.1)" fill="#2c3f58"/>
<ellipse cx="877.7" cy="233.7" rx="4.4" ry="2.05" transform="rotate(10.5 877.7 234.1)" fill="#91a7c2"/>
<ellipse cx="888.9" cy="236.8" rx="4.9" ry="2.6" transform="rotate(10.5 888.9 236.2)" fill="#683042"/>
<ellipse cx="888.9" cy="235.8" rx="4.4" ry="2.05" transform="rotate(10.5 888.9 236.2)" fill="#cd4c50"/>
<ellipse cx="900.1" cy="238.8" rx="4.9" ry="2.6" transform="rotate(10.5 900.1 238.2)" fill="#2c3f58"/>
<ellipse cx="900.1" cy="237.9" rx="4.4" ry="2.05" transform="rotate(10.5 900.1 238.2)" fill="#91a7c2"/>
<ellipse cx="911.3" cy="240.9" rx="4.9" ry="2.6" transform="rotate(10.5 911.3 240.3)" fill="#683042"/>
<ellipse cx="911.3" cy="240.0" rx="4.4" ry="2.05" transform="rotate(10.5 911.3 240.3)" fill="#cd4c50"/>
<ellipse cx="922.5" cy="243.0" rx="4.9" ry="2.6" transform="rotate(10.5 922.5 242.4)" fill="#2c3f58"/>
<ellipse cx="922.5" cy="242.1" rx="4.4" ry="2.05" transform="rotate(10.5 922.5 242.4)" fill="#91a7c2"/>
<ellipse cx="933.7" cy="245.1" rx="4.9" ry="2.6" transform="rotate(10.5 933.7 244.5)" fill="#2c3f58"/>
<ellipse cx="933.7" cy="244.1" rx="4.4" ry="2.05" transform="rotate(10.5 933.7 244.5)" fill="#91a7c2"/>
<ellipse cx="944.9" cy="247.2" rx="4.9" ry="2.6" transform="rotate(10.5 944.9 246.6)" fill="#683042"/>
<ellipse cx="944.9" cy="246.2" rx="4.4" ry="2.05" transform="rotate(10.5 944.9 246.6)" fill="#cd4c50"/>
<ellipse cx="956.1" cy="249.3" rx="4.9" ry="2.6" transform="rotate(10.5 956.1 248.7)" fill="#2c3f58"/>
<ellipse cx="956.1" cy="248.3" rx="4.4" ry="2.05" transform="rotate(10.5 956.1 248.7)" fill="#91a7c2"/>
<ellipse cx="967.3" cy="251.3" rx="4.9" ry="2.6" transform="rotate(10.5 967.3 250.7)" fill="#2c3f58"/>
<ellipse cx="967.3" cy="250.4" rx="4.4" ry="2.05" transform="rotate(10.5 967.3 250.7)" fill="#91a7c2"/>
<ellipse cx="978.4" cy="253.4" rx="4.9" ry="2.6" transform="rotate(10.5 978.4 252.8)" fill="#683042"/>
<ellipse cx="978.4" cy="252.5" rx="4.4" ry="2.05" transform="rotate(10.5 978.4 252.8)" fill="#cd4c50"/>
<ellipse cx="989.6" cy="255.5" rx="4.9" ry="2.6" transform="rotate(10.5 989.6 254.9)" fill="#2c3f58"/>
<ellipse cx="989.6" cy="254.6" rx="4.4" ry="2.05" transform="rotate(10.5 989.6 254.9)" fill="#91a7c2"/>
<ellipse cx="1000.8" cy="257.6" rx="4.9" ry="2.6" transform="rotate(10.5 1000.8 257.0)" fill="#2c3f58"/>
<ellipse cx="1000.8" cy="256.6" rx="4.4" ry="2.05" transform="rotate(10.5 1000.8 257.0)" fill="#91a7c2"/>
<ellipse cx="1012.0" cy="259.7" rx="4.9" ry="2.6" transform="rotate(10.5 1012.0 259.1)" fill="#2c3f58"/>
<ellipse cx="1012.0" cy="258.7" rx="4.4" ry="2.05" transform="rotate(10.5 1012.0 259.1)" fill="#91a7c2"/>
<ellipse cx="1023.2" cy="261.8" rx="4.9" ry="2.6" transform="rotate(10.5 1023.2 261.2)" fill="#2c3f58"/>
<ellipse cx="1023.2" cy="260.8" rx="4.4" ry="2.05" transform="rotate(10.5 1023.2 261.2)" fill="#91a7c2"/>
<ellipse cx="1034.4" cy="263.9" rx="4.9" ry="2.6" transform="rotate(10.5 1034.4 263.3)" fill="#2c3f58"/>
<ellipse cx="1034.4" cy="262.9" rx="4.4" ry="2.05" transform="rotate(10.5 1034.4 263.3)" fill="#91a7c2"/>
<ellipse cx="1045.6" cy="265.9" rx="4.9" ry="2.6" transform="rotate(10.5 1045.6 265.3)" fill="#2c3f58"/>
<ellipse cx="1045.6" cy="265.0" rx="4.4" ry="2.05" transform="rotate(10.5 1045.6 265.3)" fill="#91a7c2"/>
<ellipse cx="760.9" cy="217.8" rx="4.9" ry="2.6" transform="rotate(10.5 760.9 217.2)" fill="#2c3f58"/>
<ellipse cx="760.9" cy="216.9" rx="4.4" ry="2.05" transform="rotate(10.5 760.9 217.2)" fill="#91a7c2"/>
<ellipse cx="772.1" cy="219.9" rx="4.9" ry="2.6" transform="rotate(10.5 772.1 219.3)" fill="#2c3f58"/>
<ellipse cx="772.1" cy="218.9" rx="4.4" ry="2.05" transform="rotate(10.5 772.1 219.3)" fill="#91a7c2"/>
<ellipse cx="783.3" cy="222.0" rx="4.9" ry="2.6" transform="rotate(10.5 783.3 221.4)" fill="#2c3f58"/>
<ellipse cx="783.3" cy="221.0" rx="4.4" ry="2.05" transform="rotate(10.5 783.3 221.4)" fill="#91a7c2"/>
<ellipse cx="794.5" cy="224.1" rx="4.9" ry="2.6" transform="rotate(10.5 794.5 223.5)" fill="#2c3f58"/>
<ellipse cx="794.5" cy="223.1" rx="4.4" ry="2.05" transform="rotate(10.5 794.5 223.5)" fill="#91a7c2"/>
<ellipse cx="805.7" cy="226.2" rx="4.9" ry="2.6" transform="rotate(10.5 805.7 225.6)" fill="#2c3f58"/>
<ellipse cx="805.7" cy="225.2" rx="4.4" ry="2.05" transform="rotate(10.5 805.7 225.6)" fill="#91a7c2"/>
<ellipse cx="816.9" cy="228.2" rx="4.9" ry="2.6" transform="rotate(10.5 816.9 227.6)" fill="#2c3f58"/>
<ellipse cx="816.9" cy="227.3" rx="4.4" ry="2.05" transform="rotate(10.5 816.9 227.6)" fill="#91a7c2"/>
<ellipse cx="828.0" cy="230.3" rx="4.9" ry="2.6" transform="rotate(10.5 828.0 229.7)" fill="#2c3f58"/>
<ellipse cx="828.0" cy="229.4" rx="4.4" ry="2.05" transform="rotate(10.5 828.0 229.7)" fill="#91a7c2"/>
<ellipse cx="839.2" cy="232.4" rx="4.9" ry="2.6" transform="rotate(10.5 839.2 231.8)" fill="#2c3f58"/>
<ellipse cx="839.2" cy="231.5" rx="4.4" ry="2.05" transform="rotate(10.5 839.2 231.8)" fill="#91a7c2"/>
<ellipse cx="850.4" cy="234.5" rx="4.9" ry="2.6" transform="rotate(10.5 850.4 233.9)" fill="#683042"/>
<ellipse cx="850.4" cy="233.5" rx="4.4" ry="2.05" transform="rotate(10.5 850.4 233.9)" fill="#cd4c50"/>
<ellipse cx="861.6" cy="236.6" rx="4.9" ry="2.6" transform="rotate(10.5 861.6 236.0)" fill="#683042"/>
<ellipse cx="861.6" cy="235.6" rx="4.4" ry="2.05" transform="rotate(10.5 861.6 236.0)" fill="#cd4c50"/>
<ellipse cx="872.8" cy="238.7" rx="4.9" ry="2.6" transform="rotate(10.5 872.8 238.1)" fill="#683042"/>
<ellipse cx="872.8" cy="237.7" rx="4.4" ry="2.05" transform="rotate(10.5 872.8 238.1)" fill="#cd4c50"/>
<ellipse cx="884.0" cy="240.7" rx="4.9" ry="2.6" transform="rotate(10.5 884.0 240.1)" fill="#2c3f58"/>
<ellipse cx="884.0" cy="239.8" rx="4.4" ry="2.05" transform="rotate(10.5 884.0 240.1)" fill="#91a7c2"/>
<ellipse cx="895.2" cy="242.8" rx="4.9" ry="2.6" transform="rotate(10.5 895.2 242.2)" fill="#2c3f58"/>
<ellipse cx="895.2" cy="241.9" rx="4.4" ry="2.05" transform="rotate(10.5 895.2 242.2)" fill="#91a7c2"/>
<ellipse cx="906.4" cy="244.9" rx="4.9" ry="2.6" transform="rotate(10.5 906.4 244.3)" fill="#2c3f58"/>
<ellipse cx="906.4" cy="244.0" rx="4.4" ry="2.05" transform="rotate(10.5 906.4 244.3)" fill="#91a7c2"/>
<ellipse cx="917.6" cy="247.0" rx="4.9" ry="2.6" transform="rotate(10.5 917.6 246.4)" fill="#683042"/>
<ellipse cx="917.6" cy="246.0" rx="4.4" ry="2.05" transform="rotate(10.5 917.6 246.4)" fill="#cd4c50"/>
<ellipse cx="928.7" cy="249.1" rx="4.9" ry="2.6" transform="rotate(10.5 928.7 248.5)" fill="#2c3f58"/>
<ellipse cx="928.7" cy="248.1" rx="4.4" ry="2.05" transform="rotate(10.5 928.7 248.5)" fill="#91a7c2"/>
<ellipse cx="939.9" cy="251.2" rx="4.9" ry="2.6" transform="rotate(10.5 939.9 250.6)" fill="#2c3f58"/>
<ellipse cx="939.9" cy="250.2" rx="4.4" ry="2.05" transform="rotate(10.5 939.9 250.6)" fill="#91a7c2"/>
<ellipse cx="951.1" cy="253.2" rx="4.9" ry="2.6" transform="rotate(10.5 951.1 252.6)" fill="#2c3f58"/>
<ellipse cx="951.1" cy="252.3" rx="4.4" ry="2.05" transform="rotate(10.5 951.1 252.6)" fill="#91a7c2"/>
<ellipse cx="962.3" cy="255.3" rx="4.9" ry="2.6" transform="rotate(10.5 962.3 254.7)" fill="#2c3f58"/>
<ellipse cx="962.3" cy="254.4" rx="4.4" ry="2.05" transform="rotate(10.5 962.3 254.7)" fill="#91a7c2"/>
<ellipse cx="973.5" cy="257.4" rx="4.9" ry="2.6" transform="rotate(10.5 973.5 256.8)" fill="#2c3f58"/>
<ellipse cx="973.5" cy="256.5" rx="4.4" ry="2.05" transform="rotate(10.5 973.5 256.8)" fill="#91a7c2"/>
<ellipse cx="984.7" cy="259.5" rx="4.9" ry="2.6" transform="rotate(10.5 984.7 258.9)" fill="#2c3f58"/>
<ellipse cx="984.7" cy="258.6" rx="4.4" ry="2.05" transform="rotate(10.5 984.7 258.9)" fill="#91a7c2"/>
<ellipse cx="995.9" cy="261.6" rx="4.9" ry="2.6" transform="rotate(10.5 995.9 261.0)" fill="#2c3f58"/>
<ellipse cx="995.9" cy="260.6" rx="4.4" ry="2.05" transform="rotate(10.5 995.9 261.0)" fill="#91a7c2"/>
<ellipse cx="1007.1" cy="263.7" rx="4.9" ry="2.6" transform="rotate(10.5 1007.1 263.1)" fill="#683042"/>
<ellipse cx="1007.1" cy="262.7" rx="4.4" ry="2.05" transform="rotate(10.5 1007.1 263.1)" fill="#cd4c50"/>
<ellipse cx="1018.3" cy="265.8" rx="4.9" ry="2.6" transform="rotate(10.5 1018.3 265.2)" fill="#2c3f58"/>
<ellipse cx="1018.3" cy="264.8" rx="4.4" ry="2.05" transform="rotate(10.5 1018.3 265.2)" fill="#91a7c2"/>
<ellipse cx="1029.4" cy="267.8" rx="4.9" ry="2.6" transform="rotate(10.5 1029.4 267.2)" fill="#2c3f58"/>
<ellipse cx="1029.4" cy="266.9" rx="4.4" ry="2.05" transform="rotate(10.5 1029.4 267.2)" fill="#91a7c2"/>
<ellipse cx="1040.6" cy="269.9" rx="4.9" ry="2.6" transform="rotate(10.5 1040.6 269.3)" fill="#2c3f58"/>
<ellipse cx="1040.6" cy="269.0" rx="4.4" ry="2.05" transform="rotate(10.5 1040.6 269.3)" fill="#91a7c2"/>
<text x="0" y="0" font-size="17.5" fill="#1a1a1a" font-weight="bold" textLength="288" lengthAdjust="spacingAndGlyphs" transform="translate(848.2,146.2) rotate(10.6)" >Average Enzyme Per Bead (AEB)</text>
<text x="0" y="0" font-size="16.5" fill="#1a1a1a" font-weight="bold" textLength="143" lengthAdjust="spacingAndGlyphs" transform="translate(816.3,249.8) rotate(10.2)" >Simoa Disk Chip</text>
<text x="720.5" y="344.9" font-size="16.8" fill="#1a1a1a" font-weight="bold" textLength="200" lengthAdjust="spacingAndGlyphs" >BoAB Assay Readouts</text>
<text x="633.3" y="378.7" font-size="26.5" fill="#1a1a1a" font-weight="bold" textLength="19.5" lengthAdjust="spacingAndGlyphs" >C</text>
<text x="843.5" y="377.2" font-size="11.5" fill="#1a1a1a" font-weight="bold" textLength="149" lengthAdjust="spacingAndGlyphs" >Endpoint Titration Readout</text>
<text x="1133.5" y="369.1" font-size="10.8" fill="#1a1a1a" font-weight="bold" textLength="80.5" lengthAdjust="spacingAndGlyphs" >Single Dilution</text>
<text x="1129.5" y="382.8" font-size="10.8" fill="#1a1a1a" font-weight="bold" textLength="92.5" lengthAdjust="spacingAndGlyphs" >Screening Assay</text>
<polygon points="696.8,388.8 729,388.8 729,613.2" fill="url(#gL)" stroke="#111" stroke-width="1.7" stroke-linejoin="miter"/>
<text x="0" y="0" font-size="12.6" fill="#fff" font-weight="bold" textLength="94.5" lengthAdjust="spacingAndGlyphs" transform="translate(726.8,490) rotate(-90)" >%Maximum AEB</text>
<polygon points="775.3,623.5 1104.3,623.5 1104.3,661.8" fill="url(#gB)" stroke="#111" stroke-width="1.8"/>
<text x="994.2" y="642.5" font-size="14.5" fill="#fff" font-weight="bold" textLength="104" lengthAdjust="spacingAndGlyphs" >Inhibitor Conc.</text>
<polygon points="1238.3,390.5 1238.3,612.2 1277,612.2" fill="url(#gR)" stroke="#111" stroke-width="1.7"/>
<text x="0" y="0" font-size="12.6" fill="#fff" font-weight="bold" textLength="90.5" lengthAdjust="spacingAndGlyphs" transform="translate(1249.5,606) rotate(-90)" >% Neutralization</text>
<line x1="738" y1="518.7" x2="1231" y2="518.7" stroke="#c0282d" stroke-width="2" stroke-dasharray="2.2 2.5"/>
<text x="739" y="516" font-size="10.5" fill="#1a1a1a" font-weight="bold" textLength="23" lengthAdjust="spacingAndGlyphs" >50%</text>
<text x="1205.3" y="516" font-size="10.5" fill="#1a1a1a" font-weight="bold" textLength="23" lengthAdjust="spacingAndGlyphs" >50%</text>
<text x="1130.8" y="530.3" font-size="10.8" fill="#1a1a1a" font-weight="bold" textLength="80" lengthAdjust="spacingAndGlyphs" >Activity Cutoff</text>
<polyline points="757,408.7 804,407.2 851.3,410.3 898.5,410.8 946,410.4 993,410.3 1040.4,405.3 1087.5,404.8" fill="none" stroke="#66a27e" stroke-width="3" stroke-linejoin="round"/>
<polyline points="757,414.7 804,416.9 851.3,417.5 898.5,427.8 992.7,579.8 1040.4,607.8 1087.5,611.5" fill="none" stroke="#d67c82" stroke-width="3" stroke-linejoin="round"/>
<polyline points="757,423.3 804,427.3 851.3,466.3 898.7,567 946.1,604.7 992.7,611 1040.4,612 1087.5,612" fill="none" stroke="#4678aa" stroke-width="3" stroke-linejoin="round"/>
<line x1="876" y1="520" x2="876" y2="601" stroke="#3f7ab6" stroke-width="2" stroke-dasharray="2 2"/>
<path d="M871.3,598.5 L880.7,598.5 L876,609 Z" fill="#3f7ab6"/>
<line x1="956.5" y1="520" x2="956.5" y2="600" stroke="#e0742c" stroke-width="2" stroke-dasharray="2 2"/>
<path d="M951.8,598 L961.2,598 L956.5,607.5 Z" fill="#e0742c"/>
<text x="0" y="0" font-size="11.2" fill="#1a1a1a" font-weight="bold" textLength="23.5" lengthAdjust="spacingAndGlyphs" transform="translate(872.2,575) rotate(-90)" >IC50</text>
<text x="0" y="0" font-size="11.2" fill="#1a1a1a" font-weight="bold" textLength="23.5" lengthAdjust="spacingAndGlyphs" transform="translate(953.3,575) rotate(-90)" >IC50</text>
<line x1="757" y1="398.4" x2="757" y2="436.2" stroke="#111" stroke-width="1.8"/>
<line x1="751" y1="398.4" x2="763" y2="398.4" stroke="#111" stroke-width="1.8"/>
<line x1="751" y1="436.2" x2="763" y2="436.2" stroke="#111" stroke-width="1.8"/>
<line x1="751" y1="404" x2="763" y2="404" stroke="#111" stroke-width="1.8"/>
<line x1="851.3" y1="403.2" x2="851.3" y2="410" stroke="#111" stroke-width="1.8"/>
<line x1="845.3" y1="403.2" x2="857.3" y2="403.2" stroke="#111" stroke-width="1.8"/>
<line x1="845.3" y1="410" x2="857.3" y2="410" stroke="#111" stroke-width="1.8"/>
<line x1="898.5" y1="404.5" x2="898.5" y2="435.9" stroke="#111" stroke-width="1.8"/>
<line x1="892.5" y1="404.5" x2="904.5" y2="404.5" stroke="#111" stroke-width="1.8"/>
<line x1="892.5" y1="435.9" x2="904.5" y2="435.9" stroke="#111" stroke-width="1.8"/>
<line x1="946.2" y1="389.7" x2="946.2" y2="430.6" stroke="#111" stroke-width="1.8"/>
<line x1="940.2" y1="389.7" x2="952.2" y2="389.7" stroke="#111" stroke-width="1.8"/>
<line x1="940.2" y1="430.6" x2="952.2" y2="430.6" stroke="#111" stroke-width="1.8"/>
<line x1="1040.4" y1="398.8" x2="1040.4" y2="406" stroke="#111" stroke-width="1.8"/>
<line x1="1034.4" y1="398.8" x2="1046.4" y2="398.8" stroke="#111" stroke-width="1.8"/>
<line x1="1034.4" y1="406" x2="1046.4" y2="406" stroke="#111" stroke-width="1.8"/>
<line x1="1087.6" y1="397.2" x2="1087.6" y2="413.4" stroke="#111" stroke-width="1.8"/>
<line x1="1081.6" y1="397.2" x2="1093.6" y2="397.2" stroke="#111" stroke-width="1.8"/>
<line x1="1081.6" y1="413.4" x2="1093.6" y2="413.4" stroke="#111" stroke-width="1.8"/>
<rect x="751.25" y="416.75" width="11.5" height="11.5" fill="#111"/>
<circle cx="757" cy="416" r="5.6" fill="#111"/>
<path d="M757,404.28 L763.0,415.22 L751.0,415.22 Z" fill="#111"/>
<rect x="751.5" y="412" width="11" height="16" fill="#111"/>
<rect x="798.25" y="421.25" width="11.5" height="11.5" fill="#111"/>
<circle cx="804" cy="417.2" r="5.6" fill="#111"/>
<path d="M804,400.78 L810.0,411.72 L798.0,411.72 Z" fill="#111"/>
<rect x="798.5" y="411" width="11" height="17" fill="#111"/>
<circle cx="851.3" cy="416.4" r="5.5" fill="#111"/>
<path d="M851.3,404.715 L856.8,414.785 L845.8,414.785 Z" fill="#111"/>
<path d="M898.5,404.78 L904.5,415.72 L892.5,415.72 Z" fill="#111"/>
<rect x="893" y="416" width="11" height="5" fill="#555"/>
<circle cx="898.5" cy="427.8" r="5.6" fill="#111"/>
<path d="M946.2,404.8625 L952.45,416.2375 L939.95,416.2375 Z" fill="#111"/>
<path d="M993.1,404.8625 L999.35,416.2375 L986.85,416.2375 Z" fill="#111"/>
<path d="M1040.5,400.7625 L1046.75,412.1375 L1034.25,412.1375 Z" fill="#111"/>
<path d="M1087.7,399.7625 L1093.95,411.1375 L1081.45,411.1375 Z" fill="#111"/>
<rect x="845.55" y="460.65" width="11.5" height="11.5" fill="#111"/>
<rect x="892.7" y="561.0" width="12" height="12" fill="#111"/>
<rect x="940.1" y="598.7" width="12" height="12" fill="#111"/>
<rect x="987.2" y="604.5" width="11" height="11" fill="#111"/>
<circle cx="992.7" cy="579.8" r="5.6" fill="#111"/>
<circle cx="1040.4" cy="607.8" r="5.6" fill="#111"/>
<rect x="1082.0" y="604.5" width="11" height="11" fill="#111"/>
<rect x="1035" y="609" width="11" height="4" fill="#111"/>
<text x="940" y="449.4" font-size="10.2" fill="#5aac6c" font-weight="bold" textLength="138" lengthAdjust="spacingAndGlyphs" >Pre-pandemic plasma (PPP)</text>
<text x="940" y="461.6" font-size="10.2" fill="#3b78b3" font-weight="bold" textLength="75.5" lengthAdjust="spacingAndGlyphs" >RBD nAb (nAb)</text>
<text x="940" y="474" font-size="10.2" fill="#e0686a" font-weight="bold" textLength="163" lengthAdjust="spacingAndGlyphs" >COVID-19 Convalescent (Conval)</text>
<rect x="737.8" y="387" width="492.6" height="227.3" fill="none" stroke="#111" stroke-width="2.3"/>
<line x1="1111" y1="387" x2="1111" y2="614.3" stroke="#111" stroke-width="2.2"/>
<line x1="737" y1="614.3" x2="1231.5" y2="614.3" stroke="#111" stroke-width="3"/>
<line x1="1133.9" y1="606.4" x2="1133.9" y2="621.1" stroke="#111" stroke-width="2"/>
<line x1="1171.8" y1="606.4" x2="1171.8" y2="621.1" stroke="#111" stroke-width="2"/>
<line x1="1209.8" y1="606.4" x2="1209.8" y2="621.1" stroke="#111" stroke-width="2"/>
<circle cx="1130.9" cy="408.9" r="5.8" fill="#2aa34a"/>
<circle cx="1170.4" cy="570.1" r="5.8" fill="#df3a3a"/>
<circle cx="1209.8" cy="614.3" r="5.8" fill="#2a6cb5"/>
<text x="0" y="0" font-size="10.5" fill="#46b556" font-weight="bold" textLength="22" lengthAdjust="spacingAndGlyphs" text-anchor="end" transform="translate(1140.5,635.5) rotate(-52)" >PPP</text>
<text x="0" y="0" font-size="10.5" fill="#e8745c" font-weight="bold" textLength="36" lengthAdjust="spacingAndGlyphs" text-anchor="end" transform="translate(1178,635.5) rotate(-52)" >Conval</text>
<text x="0" y="0" font-size="10.5" fill="#3a76b8" font-weight="bold" textLength="77" lengthAdjust="spacingAndGlyphs" text-anchor="end" transform="translate(1223,630.5) rotate(-54)" >RBD nAb (nAb)</text>
</svg>
</body></html>
